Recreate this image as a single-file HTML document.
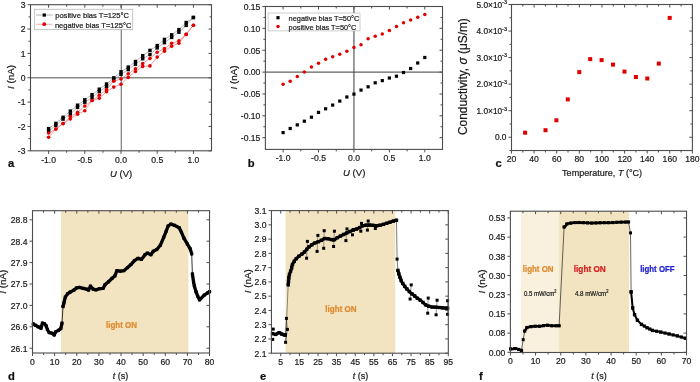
<!DOCTYPE html>
<html><head><meta charset="utf-8"><style>
html,body{margin:0;padding:0;background:#fff;}
svg{display:block;will-change:transform;}
text{font-family:"Liberation Sans", sans-serif;stroke-width:0.22px;}
</style></head><body>
<svg width="700" height="382" viewBox="0 0 700 382">
<rect width="700" height="382" fill="#fff"/>
<line x1="30.50" y1="77.75" x2="211.50" y2="77.75" stroke="#8a8a8a" stroke-width="1.3"/>
<line x1="121.30" y1="4.70" x2="121.30" y2="150.80" stroke="#7a7a7a" stroke-width="1.2"/>
<polyline points="48.60,128.60 55.84,123.40 63.08,117.30 70.32,111.10 77.56,105.20 84.80,99.80 92.04,94.60 99.28,89.20 106.52,84.00 113.76,77.90 121.00,71.80 128.24,67.10 135.48,61.50 142.72,55.70 149.96,50.40 157.20,45.60 164.44,39.40 171.68,34.80 178.92,29.60 186.16,22.50 193.40,17.50" fill="none" stroke="#9a9a9a" stroke-width="0.7" stroke-linejoin="round" stroke-linecap="round" />
<polyline points="48.60,131.20 55.84,125.30 63.08,119.10 70.32,114.20 77.56,107.40 84.80,102.20 92.04,97.50 99.28,91.60 106.52,86.60 113.76,79.80 121.00,74.40 128.24,69.60 135.48,64.20 142.72,58.70 149.96,54.50 157.20,47.90 164.44,42.70 171.68,37.40 178.92,32.20 186.16,25.40 193.40,17.50" fill="none" stroke="#9a9a9a" stroke-width="0.7" stroke-linejoin="round" stroke-linecap="round" />
<polyline points="48.60,133.00 55.84,129.00 63.08,123.60 70.32,116.50 77.56,112.30 84.80,106.00 92.04,100.50 99.28,95.30 106.52,89.50 113.76,81.20 121.00,79.00 128.24,73.80 135.48,68.80 142.72,63.50 149.96,58.40 157.20,52.20 164.44,48.60 171.68,43.30 178.92,40.70 186.16,34.40 193.40,25.20" fill="none" stroke="#f07070" stroke-width="0.7" stroke-linejoin="round" stroke-linecap="round" />
<polyline points="48.60,137.30 55.84,129.00 63.08,123.60 70.32,118.90 77.56,114.20 84.80,110.70 92.04,100.50 99.28,98.20 106.52,91.80 113.76,87.10 121.00,84.30 128.24,77.40 135.48,71.50 142.72,66.40 149.96,65.90 157.20,57.10 164.44,51.20 171.68,46.20 178.92,43.30 186.16,34.40 193.40,25.20" fill="none" stroke="#f07070" stroke-width="0.7" stroke-linejoin="round" stroke-linecap="round" />
<rect x="46.90" y="126.90" width="3.4" height="3.4" fill="#000"/>
<rect x="54.14" y="121.70" width="3.4" height="3.4" fill="#000"/>
<rect x="61.38" y="115.60" width="3.4" height="3.4" fill="#000"/>
<rect x="68.62" y="109.40" width="3.4" height="3.4" fill="#000"/>
<rect x="75.86" y="103.50" width="3.4" height="3.4" fill="#000"/>
<rect x="83.10" y="98.10" width="3.4" height="3.4" fill="#000"/>
<rect x="90.34" y="92.90" width="3.4" height="3.4" fill="#000"/>
<rect x="97.58" y="87.50" width="3.4" height="3.4" fill="#000"/>
<rect x="104.82" y="82.30" width="3.4" height="3.4" fill="#000"/>
<rect x="112.06" y="76.20" width="3.4" height="3.4" fill="#000"/>
<rect x="119.30" y="70.10" width="3.4" height="3.4" fill="#000"/>
<rect x="126.54" y="65.40" width="3.4" height="3.4" fill="#000"/>
<rect x="133.78" y="59.80" width="3.4" height="3.4" fill="#000"/>
<rect x="141.02" y="54.00" width="3.4" height="3.4" fill="#000"/>
<rect x="148.26" y="48.70" width="3.4" height="3.4" fill="#000"/>
<rect x="155.50" y="43.90" width="3.4" height="3.4" fill="#000"/>
<rect x="162.74" y="37.70" width="3.4" height="3.4" fill="#000"/>
<rect x="169.98" y="33.10" width="3.4" height="3.4" fill="#000"/>
<rect x="177.22" y="27.90" width="3.4" height="3.4" fill="#000"/>
<rect x="184.46" y="20.80" width="3.4" height="3.4" fill="#000"/>
<rect x="191.70" y="15.80" width="3.4" height="3.4" fill="#000"/>
<rect x="46.90" y="129.50" width="3.4" height="3.4" fill="#000"/>
<rect x="54.14" y="123.60" width="3.4" height="3.4" fill="#000"/>
<rect x="61.38" y="117.40" width="3.4" height="3.4" fill="#000"/>
<rect x="68.62" y="112.50" width="3.4" height="3.4" fill="#000"/>
<rect x="75.86" y="105.70" width="3.4" height="3.4" fill="#000"/>
<rect x="83.10" y="100.50" width="3.4" height="3.4" fill="#000"/>
<rect x="90.34" y="95.80" width="3.4" height="3.4" fill="#000"/>
<rect x="97.58" y="89.90" width="3.4" height="3.4" fill="#000"/>
<rect x="104.82" y="84.90" width="3.4" height="3.4" fill="#000"/>
<rect x="112.06" y="78.10" width="3.4" height="3.4" fill="#000"/>
<rect x="119.30" y="72.70" width="3.4" height="3.4" fill="#000"/>
<rect x="126.54" y="67.90" width="3.4" height="3.4" fill="#000"/>
<rect x="133.78" y="62.50" width="3.4" height="3.4" fill="#000"/>
<rect x="141.02" y="57.00" width="3.4" height="3.4" fill="#000"/>
<rect x="148.26" y="52.80" width="3.4" height="3.4" fill="#000"/>
<rect x="155.50" y="46.20" width="3.4" height="3.4" fill="#000"/>
<rect x="162.74" y="41.00" width="3.4" height="3.4" fill="#000"/>
<rect x="169.98" y="35.70" width="3.4" height="3.4" fill="#000"/>
<rect x="177.22" y="30.50" width="3.4" height="3.4" fill="#000"/>
<rect x="184.46" y="23.70" width="3.4" height="3.4" fill="#000"/>
<rect x="191.70" y="15.80" width="3.4" height="3.4" fill="#000"/>
<circle cx="48.60" cy="133.00" r="1.8" fill="#e00000"/>
<circle cx="55.84" cy="129.00" r="1.8" fill="#e00000"/>
<circle cx="63.08" cy="123.60" r="1.8" fill="#e00000"/>
<circle cx="70.32" cy="116.50" r="1.8" fill="#e00000"/>
<circle cx="77.56" cy="112.30" r="1.8" fill="#e00000"/>
<circle cx="84.80" cy="106.00" r="1.8" fill="#e00000"/>
<circle cx="92.04" cy="100.50" r="1.8" fill="#e00000"/>
<circle cx="99.28" cy="95.30" r="1.8" fill="#e00000"/>
<circle cx="106.52" cy="89.50" r="1.8" fill="#e00000"/>
<circle cx="113.76" cy="81.20" r="1.8" fill="#e00000"/>
<circle cx="121.00" cy="79.00" r="1.8" fill="#e00000"/>
<circle cx="128.24" cy="73.80" r="1.8" fill="#e00000"/>
<circle cx="135.48" cy="68.80" r="1.8" fill="#e00000"/>
<circle cx="142.72" cy="63.50" r="1.8" fill="#e00000"/>
<circle cx="149.96" cy="58.40" r="1.8" fill="#e00000"/>
<circle cx="157.20" cy="52.20" r="1.8" fill="#e00000"/>
<circle cx="164.44" cy="48.60" r="1.8" fill="#e00000"/>
<circle cx="171.68" cy="43.30" r="1.8" fill="#e00000"/>
<circle cx="178.92" cy="40.70" r="1.8" fill="#e00000"/>
<circle cx="186.16" cy="34.40" r="1.8" fill="#e00000"/>
<circle cx="193.40" cy="25.20" r="1.8" fill="#e00000"/>
<circle cx="48.60" cy="137.30" r="1.8" fill="#e00000"/>
<circle cx="55.84" cy="129.00" r="1.8" fill="#e00000"/>
<circle cx="63.08" cy="123.60" r="1.8" fill="#e00000"/>
<circle cx="70.32" cy="118.90" r="1.8" fill="#e00000"/>
<circle cx="77.56" cy="114.20" r="1.8" fill="#e00000"/>
<circle cx="84.80" cy="110.70" r="1.8" fill="#e00000"/>
<circle cx="92.04" cy="100.50" r="1.8" fill="#e00000"/>
<circle cx="99.28" cy="98.20" r="1.8" fill="#e00000"/>
<circle cx="106.52" cy="91.80" r="1.8" fill="#e00000"/>
<circle cx="113.76" cy="87.10" r="1.8" fill="#e00000"/>
<circle cx="121.00" cy="84.30" r="1.8" fill="#e00000"/>
<circle cx="128.24" cy="77.40" r="1.8" fill="#e00000"/>
<circle cx="135.48" cy="71.50" r="1.8" fill="#e00000"/>
<circle cx="142.72" cy="66.40" r="1.8" fill="#e00000"/>
<circle cx="149.96" cy="65.90" r="1.8" fill="#e00000"/>
<circle cx="157.20" cy="57.10" r="1.8" fill="#e00000"/>
<circle cx="164.44" cy="51.20" r="1.8" fill="#e00000"/>
<circle cx="171.68" cy="46.20" r="1.8" fill="#e00000"/>
<circle cx="178.92" cy="43.30" r="1.8" fill="#e00000"/>
<circle cx="186.16" cy="34.40" r="1.8" fill="#e00000"/>
<circle cx="193.40" cy="25.20" r="1.8" fill="#e00000"/>
<rect x="30.50" y="4.70" width="181.00" height="146.10" fill="none" stroke="#4d4d4d" stroke-width="1.1"/>
<line x1="48.60" y1="150.80" x2="48.60" y2="153.80" stroke="#4d4d4d" stroke-width="1"/>
<line x1="48.60" y1="4.70" x2="48.60" y2="7.70" stroke="#4d4d4d" stroke-width="1"/>
<line x1="84.80" y1="150.80" x2="84.80" y2="153.80" stroke="#4d4d4d" stroke-width="1"/>
<line x1="84.80" y1="4.70" x2="84.80" y2="7.70" stroke="#4d4d4d" stroke-width="1"/>
<line x1="121.00" y1="150.80" x2="121.00" y2="153.80" stroke="#4d4d4d" stroke-width="1"/>
<line x1="121.00" y1="4.70" x2="121.00" y2="7.70" stroke="#4d4d4d" stroke-width="1"/>
<line x1="157.20" y1="150.80" x2="157.20" y2="153.80" stroke="#4d4d4d" stroke-width="1"/>
<line x1="157.20" y1="4.70" x2="157.20" y2="7.70" stroke="#4d4d4d" stroke-width="1"/>
<line x1="193.40" y1="150.80" x2="193.40" y2="153.80" stroke="#4d4d4d" stroke-width="1"/>
<line x1="193.40" y1="4.70" x2="193.40" y2="7.70" stroke="#4d4d4d" stroke-width="1"/>
<line x1="66.70" y1="150.80" x2="66.70" y2="152.80" stroke="#4d4d4d" stroke-width="1"/>
<line x1="66.70" y1="4.70" x2="66.70" y2="6.70" stroke="#4d4d4d" stroke-width="1"/>
<line x1="102.90" y1="150.80" x2="102.90" y2="152.80" stroke="#4d4d4d" stroke-width="1"/>
<line x1="102.90" y1="4.70" x2="102.90" y2="6.70" stroke="#4d4d4d" stroke-width="1"/>
<line x1="139.10" y1="150.80" x2="139.10" y2="152.80" stroke="#4d4d4d" stroke-width="1"/>
<line x1="139.10" y1="4.70" x2="139.10" y2="6.70" stroke="#4d4d4d" stroke-width="1"/>
<line x1="175.30" y1="150.80" x2="175.30" y2="152.80" stroke="#4d4d4d" stroke-width="1"/>
<line x1="175.30" y1="4.70" x2="175.30" y2="6.70" stroke="#4d4d4d" stroke-width="1"/>
<text x="48.60" y="162.50" font-size="9.3" text-anchor="middle" font-weight="normal" fill="#1a1a1a" stroke="#1a1a1a" font-style="normal"  textLength="14.82" lengthAdjust="spacingAndGlyphs">-1.0</text>
<text x="84.80" y="162.50" font-size="9.3" text-anchor="middle" font-weight="normal" fill="#1a1a1a" stroke="#1a1a1a" font-style="normal"  textLength="14.82" lengthAdjust="spacingAndGlyphs">-0.5</text>
<text x="121.00" y="162.50" font-size="9.3" text-anchor="middle" font-weight="normal" fill="#1a1a1a" stroke="#1a1a1a" font-style="normal"  textLength="11.96" lengthAdjust="spacingAndGlyphs">0.0</text>
<text x="157.20" y="162.50" font-size="9.3" text-anchor="middle" font-weight="normal" fill="#1a1a1a" stroke="#1a1a1a" font-style="normal"  textLength="11.96" lengthAdjust="spacingAndGlyphs">0.5</text>
<text x="193.40" y="162.50" font-size="9.3" text-anchor="middle" font-weight="normal" fill="#1a1a1a" stroke="#1a1a1a" font-style="normal"  textLength="11.96" lengthAdjust="spacingAndGlyphs">1.0</text>
<line x1="27.50" y1="4.70" x2="30.50" y2="4.70" stroke="#4d4d4d" stroke-width="1"/>
<line x1="208.50" y1="4.70" x2="211.50" y2="4.70" stroke="#4d4d4d" stroke-width="1"/>
<line x1="27.50" y1="29.05" x2="30.50" y2="29.05" stroke="#4d4d4d" stroke-width="1"/>
<line x1="208.50" y1="29.05" x2="211.50" y2="29.05" stroke="#4d4d4d" stroke-width="1"/>
<line x1="27.50" y1="53.40" x2="30.50" y2="53.40" stroke="#4d4d4d" stroke-width="1"/>
<line x1="208.50" y1="53.40" x2="211.50" y2="53.40" stroke="#4d4d4d" stroke-width="1"/>
<line x1="27.50" y1="77.75" x2="30.50" y2="77.75" stroke="#4d4d4d" stroke-width="1"/>
<line x1="208.50" y1="77.75" x2="211.50" y2="77.75" stroke="#4d4d4d" stroke-width="1"/>
<line x1="27.50" y1="102.10" x2="30.50" y2="102.10" stroke="#4d4d4d" stroke-width="1"/>
<line x1="208.50" y1="102.10" x2="211.50" y2="102.10" stroke="#4d4d4d" stroke-width="1"/>
<line x1="27.50" y1="126.45" x2="30.50" y2="126.45" stroke="#4d4d4d" stroke-width="1"/>
<line x1="208.50" y1="126.45" x2="211.50" y2="126.45" stroke="#4d4d4d" stroke-width="1"/>
<line x1="27.50" y1="150.80" x2="30.50" y2="150.80" stroke="#4d4d4d" stroke-width="1"/>
<line x1="208.50" y1="150.80" x2="211.50" y2="150.80" stroke="#4d4d4d" stroke-width="1"/>
<line x1="28.50" y1="16.88" x2="30.50" y2="16.88" stroke="#4d4d4d" stroke-width="1"/>
<line x1="209.50" y1="16.88" x2="211.50" y2="16.88" stroke="#4d4d4d" stroke-width="1"/>
<line x1="28.50" y1="41.22" x2="30.50" y2="41.22" stroke="#4d4d4d" stroke-width="1"/>
<line x1="209.50" y1="41.22" x2="211.50" y2="41.22" stroke="#4d4d4d" stroke-width="1"/>
<line x1="28.50" y1="65.58" x2="30.50" y2="65.58" stroke="#4d4d4d" stroke-width="1"/>
<line x1="209.50" y1="65.58" x2="211.50" y2="65.58" stroke="#4d4d4d" stroke-width="1"/>
<line x1="28.50" y1="89.92" x2="30.50" y2="89.92" stroke="#4d4d4d" stroke-width="1"/>
<line x1="209.50" y1="89.92" x2="211.50" y2="89.92" stroke="#4d4d4d" stroke-width="1"/>
<line x1="28.50" y1="114.28" x2="30.50" y2="114.28" stroke="#4d4d4d" stroke-width="1"/>
<line x1="209.50" y1="114.28" x2="211.50" y2="114.28" stroke="#4d4d4d" stroke-width="1"/>
<line x1="28.50" y1="138.62" x2="30.50" y2="138.62" stroke="#4d4d4d" stroke-width="1"/>
<line x1="209.50" y1="138.62" x2="211.50" y2="138.62" stroke="#4d4d4d" stroke-width="1"/>
<text x="25.50" y="8.00" font-size="9.3" text-anchor="end" font-weight="normal" fill="#1a1a1a" stroke="#1a1a1a" font-style="normal"  textLength="4.78" lengthAdjust="spacingAndGlyphs">3</text>
<text x="25.50" y="32.35" font-size="9.3" text-anchor="end" font-weight="normal" fill="#1a1a1a" stroke="#1a1a1a" font-style="normal"  textLength="4.78" lengthAdjust="spacingAndGlyphs">2</text>
<text x="25.50" y="56.70" font-size="9.3" text-anchor="end" font-weight="normal" fill="#1a1a1a" stroke="#1a1a1a" font-style="normal"  textLength="4.78" lengthAdjust="spacingAndGlyphs">1</text>
<text x="25.50" y="81.05" font-size="9.3" text-anchor="end" font-weight="normal" fill="#1a1a1a" stroke="#1a1a1a" font-style="normal"  textLength="4.78" lengthAdjust="spacingAndGlyphs">0</text>
<text x="25.50" y="105.40" font-size="9.3" text-anchor="end" font-weight="normal" fill="#1a1a1a" stroke="#1a1a1a" font-style="normal"  textLength="7.65" lengthAdjust="spacingAndGlyphs">-1</text>
<text x="25.50" y="129.75" font-size="9.3" text-anchor="end" font-weight="normal" fill="#1a1a1a" stroke="#1a1a1a" font-style="normal"  textLength="7.65" lengthAdjust="spacingAndGlyphs">-2</text>
<text x="25.50" y="154.10" font-size="9.3" text-anchor="end" font-weight="normal" fill="#1a1a1a" stroke="#1a1a1a" font-style="normal"  textLength="7.65" lengthAdjust="spacingAndGlyphs">-3</text>
<rect x="34.30" y="9.20" width="98.50" height="20.40" fill="#ffffff" stroke="#a0a0a0" stroke-width="0.6"/>
<line x1="36.00" y1="15.00" x2="52.50" y2="15.00" stroke="#cfcfcf" stroke-width="1.6"/>
<rect x="42.65" y="13.45" width="3.2" height="3.2" fill="#000"/>
<line x1="36.00" y1="24.30" x2="52.50" y2="24.30" stroke="#f09a9a" stroke-width="0.8"/>
<circle cx="44.25" cy="24.20" r="1.9" fill="#e00000"/>
<text x="55.20" y="18.10" font-size="8.0" text-anchor="start" font-weight="normal" fill="#1a1a1a" stroke="#1a1a1a" font-style="normal"  textLength="73.8" lengthAdjust="spacingAndGlyphs">positive bias T=125°C</text>
<text x="54.90" y="27.60" font-size="8.0" text-anchor="start" font-weight="normal" fill="#1a1a1a" stroke="#1a1a1a" font-style="normal"  textLength="76.5" lengthAdjust="spacingAndGlyphs">negative bias T=125°C</text>
<text x="121.20" y="176.90" font-size="9.5" text-anchor="middle" font-weight="normal" fill="#1a1a1a" stroke="#1a1a1a" font-style="normal" ><tspan font-style="italic">U</tspan> (V)</text>
<text x="0" y="0" font-size="9.8" text-anchor="middle" fill="#1a1a1a" stroke="#1a1a1a" transform="translate(14.10,77.00) rotate(-90)"><tspan font-style="italic">I</tspan> (nA)</text>
<text x="8.00" y="167.30" font-size="11.2" text-anchor="start" font-weight="bold" fill="#111" stroke="#111" font-style="normal" >a</text>
<line x1="265.39" y1="72.10" x2="442.51" y2="72.10" stroke="#3a3a3a" stroke-width="1"/>
<line x1="353.95" y1="6.50" x2="353.95" y2="149.40" stroke="#3a3a3a" stroke-width="1"/>
<rect x="281.50" y="131.00" width="3.2" height="3.2" fill="#000"/>
<rect x="288.58" y="126.90" width="3.2" height="3.2" fill="#000"/>
<rect x="295.67" y="123.30" width="3.2" height="3.2" fill="#000"/>
<rect x="302.75" y="119.60" width="3.2" height="3.2" fill="#000"/>
<rect x="309.84" y="115.60" width="3.2" height="3.2" fill="#000"/>
<rect x="316.92" y="110.80" width="3.2" height="3.2" fill="#000"/>
<rect x="324.01" y="107.20" width="3.2" height="3.2" fill="#000"/>
<rect x="331.09" y="103.50" width="3.2" height="3.2" fill="#000"/>
<rect x="338.18" y="99.50" width="3.2" height="3.2" fill="#000"/>
<rect x="345.26" y="95.40" width="3.2" height="3.2" fill="#000"/>
<rect x="352.35" y="92.50" width="3.2" height="3.2" fill="#000"/>
<rect x="359.43" y="88.50" width="3.2" height="3.2" fill="#000"/>
<rect x="366.52" y="85.20" width="3.2" height="3.2" fill="#000"/>
<rect x="373.60" y="81.20" width="3.2" height="3.2" fill="#000"/>
<rect x="380.69" y="79.00" width="3.2" height="3.2" fill="#000"/>
<rect x="387.77" y="76.40" width="3.2" height="3.2" fill="#000"/>
<rect x="394.86" y="74.60" width="3.2" height="3.2" fill="#000"/>
<rect x="401.94" y="70.90" width="3.2" height="3.2" fill="#000"/>
<rect x="409.03" y="66.90" width="3.2" height="3.2" fill="#000"/>
<rect x="416.11" y="61.40" width="3.2" height="3.2" fill="#000"/>
<rect x="423.20" y="55.90" width="3.2" height="3.2" fill="#000"/>
<circle cx="283.10" cy="84.20" r="1.75" fill="#e00000"/>
<circle cx="290.19" cy="81.30" r="1.75" fill="#e00000"/>
<circle cx="297.27" cy="76.50" r="1.75" fill="#e00000"/>
<circle cx="304.36" cy="72.10" r="1.75" fill="#e00000"/>
<circle cx="311.44" cy="67.00" r="1.75" fill="#e00000"/>
<circle cx="318.52" cy="63.30" r="1.75" fill="#e00000"/>
<circle cx="325.61" cy="59.30" r="1.75" fill="#e00000"/>
<circle cx="332.69" cy="56.80" r="1.75" fill="#e00000"/>
<circle cx="339.78" cy="54.20" r="1.75" fill="#e00000"/>
<circle cx="346.87" cy="51.30" r="1.75" fill="#e00000"/>
<circle cx="353.95" cy="47.60" r="1.75" fill="#e00000"/>
<circle cx="361.03" cy="44.70" r="1.75" fill="#e00000"/>
<circle cx="368.12" cy="38.80" r="1.75" fill="#e00000"/>
<circle cx="375.20" cy="36.30" r="1.75" fill="#e00000"/>
<circle cx="382.29" cy="34.10" r="1.75" fill="#e00000"/>
<circle cx="389.38" cy="30.40" r="1.75" fill="#e00000"/>
<circle cx="396.46" cy="26.40" r="1.75" fill="#e00000"/>
<circle cx="403.54" cy="22.70" r="1.75" fill="#e00000"/>
<circle cx="410.63" cy="20.10" r="1.75" fill="#e00000"/>
<circle cx="417.71" cy="17.20" r="1.75" fill="#e00000"/>
<circle cx="424.80" cy="14.60" r="1.75" fill="#e00000"/>
<rect x="265.39" y="6.50" width="177.12" height="142.90" fill="none" stroke="#4d4d4d" stroke-width="1.1"/>
<line x1="283.10" y1="149.40" x2="283.10" y2="152.40" stroke="#4d4d4d" stroke-width="1"/>
<line x1="283.10" y1="6.50" x2="283.10" y2="9.50" stroke="#4d4d4d" stroke-width="1"/>
<line x1="318.52" y1="149.40" x2="318.52" y2="152.40" stroke="#4d4d4d" stroke-width="1"/>
<line x1="318.52" y1="6.50" x2="318.52" y2="9.50" stroke="#4d4d4d" stroke-width="1"/>
<line x1="353.95" y1="149.40" x2="353.95" y2="152.40" stroke="#4d4d4d" stroke-width="1"/>
<line x1="353.95" y1="6.50" x2="353.95" y2="9.50" stroke="#4d4d4d" stroke-width="1"/>
<line x1="389.38" y1="149.40" x2="389.38" y2="152.40" stroke="#4d4d4d" stroke-width="1"/>
<line x1="389.38" y1="6.50" x2="389.38" y2="9.50" stroke="#4d4d4d" stroke-width="1"/>
<line x1="424.80" y1="149.40" x2="424.80" y2="152.40" stroke="#4d4d4d" stroke-width="1"/>
<line x1="424.80" y1="6.50" x2="424.80" y2="9.50" stroke="#4d4d4d" stroke-width="1"/>
<line x1="300.81" y1="149.40" x2="300.81" y2="151.40" stroke="#4d4d4d" stroke-width="1"/>
<line x1="300.81" y1="6.50" x2="300.81" y2="8.50" stroke="#4d4d4d" stroke-width="1"/>
<line x1="336.24" y1="149.40" x2="336.24" y2="151.40" stroke="#4d4d4d" stroke-width="1"/>
<line x1="336.24" y1="6.50" x2="336.24" y2="8.50" stroke="#4d4d4d" stroke-width="1"/>
<line x1="371.66" y1="149.40" x2="371.66" y2="151.40" stroke="#4d4d4d" stroke-width="1"/>
<line x1="371.66" y1="6.50" x2="371.66" y2="8.50" stroke="#4d4d4d" stroke-width="1"/>
<line x1="407.09" y1="149.40" x2="407.09" y2="151.40" stroke="#4d4d4d" stroke-width="1"/>
<line x1="407.09" y1="6.50" x2="407.09" y2="8.50" stroke="#4d4d4d" stroke-width="1"/>
<text x="283.10" y="161.10" font-size="9.3" text-anchor="middle" font-weight="normal" fill="#1a1a1a" stroke="#1a1a1a" font-style="normal"  textLength="14.82" lengthAdjust="spacingAndGlyphs">-1.0</text>
<text x="318.52" y="161.10" font-size="9.3" text-anchor="middle" font-weight="normal" fill="#1a1a1a" stroke="#1a1a1a" font-style="normal"  textLength="14.82" lengthAdjust="spacingAndGlyphs">-0.5</text>
<text x="353.95" y="161.10" font-size="9.3" text-anchor="middle" font-weight="normal" fill="#1a1a1a" stroke="#1a1a1a" font-style="normal"  textLength="11.96" lengthAdjust="spacingAndGlyphs">0.0</text>
<text x="389.38" y="161.10" font-size="9.3" text-anchor="middle" font-weight="normal" fill="#1a1a1a" stroke="#1a1a1a" font-style="normal"  textLength="11.96" lengthAdjust="spacingAndGlyphs">0.5</text>
<text x="424.80" y="161.10" font-size="9.3" text-anchor="middle" font-weight="normal" fill="#1a1a1a" stroke="#1a1a1a" font-style="normal"  textLength="11.96" lengthAdjust="spacingAndGlyphs">1.0</text>
<line x1="262.39" y1="6.50" x2="265.39" y2="6.50" stroke="#4d4d4d" stroke-width="1"/>
<line x1="439.51" y1="6.50" x2="442.51" y2="6.50" stroke="#4d4d4d" stroke-width="1"/>
<line x1="262.39" y1="28.37" x2="265.39" y2="28.37" stroke="#4d4d4d" stroke-width="1"/>
<line x1="439.51" y1="28.37" x2="442.51" y2="28.37" stroke="#4d4d4d" stroke-width="1"/>
<line x1="262.39" y1="50.23" x2="265.39" y2="50.23" stroke="#4d4d4d" stroke-width="1"/>
<line x1="439.51" y1="50.23" x2="442.51" y2="50.23" stroke="#4d4d4d" stroke-width="1"/>
<line x1="262.39" y1="72.10" x2="265.39" y2="72.10" stroke="#4d4d4d" stroke-width="1"/>
<line x1="439.51" y1="72.10" x2="442.51" y2="72.10" stroke="#4d4d4d" stroke-width="1"/>
<line x1="262.39" y1="93.97" x2="265.39" y2="93.97" stroke="#4d4d4d" stroke-width="1"/>
<line x1="439.51" y1="93.97" x2="442.51" y2="93.97" stroke="#4d4d4d" stroke-width="1"/>
<line x1="262.39" y1="115.83" x2="265.39" y2="115.83" stroke="#4d4d4d" stroke-width="1"/>
<line x1="439.51" y1="115.83" x2="442.51" y2="115.83" stroke="#4d4d4d" stroke-width="1"/>
<line x1="262.39" y1="137.69" x2="265.39" y2="137.69" stroke="#4d4d4d" stroke-width="1"/>
<line x1="439.51" y1="137.69" x2="442.51" y2="137.69" stroke="#4d4d4d" stroke-width="1"/>
<line x1="263.39" y1="17.44" x2="265.39" y2="17.44" stroke="#4d4d4d" stroke-width="1"/>
<line x1="440.51" y1="17.44" x2="442.51" y2="17.44" stroke="#4d4d4d" stroke-width="1"/>
<line x1="263.39" y1="39.30" x2="265.39" y2="39.30" stroke="#4d4d4d" stroke-width="1"/>
<line x1="440.51" y1="39.30" x2="442.51" y2="39.30" stroke="#4d4d4d" stroke-width="1"/>
<line x1="263.39" y1="61.17" x2="265.39" y2="61.17" stroke="#4d4d4d" stroke-width="1"/>
<line x1="440.51" y1="61.17" x2="442.51" y2="61.17" stroke="#4d4d4d" stroke-width="1"/>
<line x1="263.39" y1="83.03" x2="265.39" y2="83.03" stroke="#4d4d4d" stroke-width="1"/>
<line x1="440.51" y1="83.03" x2="442.51" y2="83.03" stroke="#4d4d4d" stroke-width="1"/>
<line x1="263.39" y1="104.90" x2="265.39" y2="104.90" stroke="#4d4d4d" stroke-width="1"/>
<line x1="440.51" y1="104.90" x2="442.51" y2="104.90" stroke="#4d4d4d" stroke-width="1"/>
<line x1="263.39" y1="126.76" x2="265.39" y2="126.76" stroke="#4d4d4d" stroke-width="1"/>
<line x1="440.51" y1="126.76" x2="442.51" y2="126.76" stroke="#4d4d4d" stroke-width="1"/>
<text x="260.39" y="9.80" font-size="9.3" text-anchor="end" font-weight="normal" fill="#1a1a1a" stroke="#1a1a1a" font-style="normal"  textLength="16.74" lengthAdjust="spacingAndGlyphs">0.15</text>
<text x="260.39" y="31.67" font-size="9.3" text-anchor="end" font-weight="normal" fill="#1a1a1a" stroke="#1a1a1a" font-style="normal"  textLength="16.74" lengthAdjust="spacingAndGlyphs">0.10</text>
<text x="260.39" y="53.53" font-size="9.3" text-anchor="end" font-weight="normal" fill="#1a1a1a" stroke="#1a1a1a" font-style="normal"  textLength="16.74" lengthAdjust="spacingAndGlyphs">0.05</text>
<text x="260.39" y="75.40" font-size="9.3" text-anchor="end" font-weight="normal" fill="#1a1a1a" stroke="#1a1a1a" font-style="normal"  textLength="16.74" lengthAdjust="spacingAndGlyphs">0.00</text>
<text x="260.39" y="97.27" font-size="9.3" text-anchor="end" font-weight="normal" fill="#1a1a1a" stroke="#1a1a1a" font-style="normal"  textLength="19.60" lengthAdjust="spacingAndGlyphs">-0.05</text>
<text x="260.39" y="119.13" font-size="9.3" text-anchor="end" font-weight="normal" fill="#1a1a1a" stroke="#1a1a1a" font-style="normal"  textLength="19.60" lengthAdjust="spacingAndGlyphs">-0.10</text>
<text x="260.39" y="141.00" font-size="9.3" text-anchor="end" font-weight="normal" fill="#1a1a1a" stroke="#1a1a1a" font-style="normal"  textLength="19.60" lengthAdjust="spacingAndGlyphs">-0.15</text>
<rect x="268.10" y="13.00" width="91.90" height="17.90" fill="#ffffff" stroke="#b0b0b0" stroke-width="0.6"/>
<rect x="276.40" y="16.10" width="3.2" height="3.2" fill="#000"/>
<circle cx="278.00" cy="26.60" r="1.75" fill="#e00000"/>
<text x="288.60" y="20.60" font-size="8.0" text-anchor="start" font-weight="normal" fill="#1a1a1a" stroke="#1a1a1a" font-style="normal"  textLength="70.7" lengthAdjust="spacingAndGlyphs">negative bias T=50°C</text>
<text x="288.60" y="29.50" font-size="8.0" text-anchor="start" font-weight="normal" fill="#1a1a1a" stroke="#1a1a1a" font-style="normal"  textLength="67.8" lengthAdjust="spacingAndGlyphs">positive bias T=50°C</text>
<text x="354.20" y="175.90" font-size="9.6" text-anchor="middle" font-weight="normal" fill="#1a1a1a" stroke="#1a1a1a" font-style="normal" ><tspan font-style="italic">U</tspan> (V)</text>
<text x="0" y="0" font-size="9.8" text-anchor="middle" fill="#1a1a1a" stroke="#1a1a1a" transform="translate(237.20,77.50) rotate(-90)"><tspan font-style="italic">I</tspan> (nA)</text>
<text x="247.80" y="166.70" font-size="11.2" text-anchor="start" font-weight="bold" fill="#111" stroke="#111" font-style="normal" >b</text>
<rect x="523.10" y="130.70" width="4.0" height="4.0" fill="#e00000"/>
<rect x="543.50" y="128.20" width="4.0" height="4.0" fill="#e00000"/>
<rect x="554.40" y="118.30" width="4.0" height="4.0" fill="#e00000"/>
<rect x="565.80" y="97.40" width="4.0" height="4.0" fill="#e00000"/>
<rect x="577.30" y="70.10" width="4.0" height="4.0" fill="#e00000"/>
<rect x="588.20" y="57.10" width="4.0" height="4.0" fill="#e00000"/>
<rect x="599.60" y="58.10" width="4.0" height="4.0" fill="#e00000"/>
<rect x="611.00" y="62.60" width="4.0" height="4.0" fill="#e00000"/>
<rect x="622.50" y="69.60" width="4.0" height="4.0" fill="#e00000"/>
<rect x="633.90" y="75.00" width="4.0" height="4.0" fill="#e00000"/>
<rect x="645.30" y="76.50" width="4.0" height="4.0" fill="#e00000"/>
<rect x="656.80" y="61.60" width="4.0" height="4.0" fill="#e00000"/>
<rect x="667.70" y="15.90" width="4.0" height="4.0" fill="#e00000"/>
<rect x="511.50" y="4.50" width="180.90" height="146.03" fill="none" stroke="#4d4d4d" stroke-width="1.1"/>
<line x1="511.50" y1="150.53" x2="511.50" y2="153.53" stroke="#4d4d4d" stroke-width="1"/>
<line x1="511.50" y1="4.50" x2="511.50" y2="7.50" stroke="#4d4d4d" stroke-width="1"/>
<line x1="534.11" y1="150.53" x2="534.11" y2="153.53" stroke="#4d4d4d" stroke-width="1"/>
<line x1="534.11" y1="4.50" x2="534.11" y2="7.50" stroke="#4d4d4d" stroke-width="1"/>
<line x1="556.72" y1="150.53" x2="556.72" y2="153.53" stroke="#4d4d4d" stroke-width="1"/>
<line x1="556.72" y1="4.50" x2="556.72" y2="7.50" stroke="#4d4d4d" stroke-width="1"/>
<line x1="579.34" y1="150.53" x2="579.34" y2="153.53" stroke="#4d4d4d" stroke-width="1"/>
<line x1="579.34" y1="4.50" x2="579.34" y2="7.50" stroke="#4d4d4d" stroke-width="1"/>
<line x1="601.95" y1="150.53" x2="601.95" y2="153.53" stroke="#4d4d4d" stroke-width="1"/>
<line x1="601.95" y1="4.50" x2="601.95" y2="7.50" stroke="#4d4d4d" stroke-width="1"/>
<line x1="624.56" y1="150.53" x2="624.56" y2="153.53" stroke="#4d4d4d" stroke-width="1"/>
<line x1="624.56" y1="4.50" x2="624.56" y2="7.50" stroke="#4d4d4d" stroke-width="1"/>
<line x1="647.17" y1="150.53" x2="647.17" y2="153.53" stroke="#4d4d4d" stroke-width="1"/>
<line x1="647.17" y1="4.50" x2="647.17" y2="7.50" stroke="#4d4d4d" stroke-width="1"/>
<line x1="669.78" y1="150.53" x2="669.78" y2="153.53" stroke="#4d4d4d" stroke-width="1"/>
<line x1="669.78" y1="4.50" x2="669.78" y2="7.50" stroke="#4d4d4d" stroke-width="1"/>
<line x1="692.40" y1="150.53" x2="692.40" y2="153.53" stroke="#4d4d4d" stroke-width="1"/>
<line x1="692.40" y1="4.50" x2="692.40" y2="7.50" stroke="#4d4d4d" stroke-width="1"/>
<line x1="522.81" y1="150.53" x2="522.81" y2="152.53" stroke="#4d4d4d" stroke-width="1"/>
<line x1="522.81" y1="4.50" x2="522.81" y2="6.50" stroke="#4d4d4d" stroke-width="1"/>
<line x1="545.42" y1="150.53" x2="545.42" y2="152.53" stroke="#4d4d4d" stroke-width="1"/>
<line x1="545.42" y1="4.50" x2="545.42" y2="6.50" stroke="#4d4d4d" stroke-width="1"/>
<line x1="568.03" y1="150.53" x2="568.03" y2="152.53" stroke="#4d4d4d" stroke-width="1"/>
<line x1="568.03" y1="4.50" x2="568.03" y2="6.50" stroke="#4d4d4d" stroke-width="1"/>
<line x1="590.64" y1="150.53" x2="590.64" y2="152.53" stroke="#4d4d4d" stroke-width="1"/>
<line x1="590.64" y1="4.50" x2="590.64" y2="6.50" stroke="#4d4d4d" stroke-width="1"/>
<line x1="613.25" y1="150.53" x2="613.25" y2="152.53" stroke="#4d4d4d" stroke-width="1"/>
<line x1="613.25" y1="4.50" x2="613.25" y2="6.50" stroke="#4d4d4d" stroke-width="1"/>
<line x1="635.87" y1="150.53" x2="635.87" y2="152.53" stroke="#4d4d4d" stroke-width="1"/>
<line x1="635.87" y1="4.50" x2="635.87" y2="6.50" stroke="#4d4d4d" stroke-width="1"/>
<line x1="658.48" y1="150.53" x2="658.48" y2="152.53" stroke="#4d4d4d" stroke-width="1"/>
<line x1="658.48" y1="4.50" x2="658.48" y2="6.50" stroke="#4d4d4d" stroke-width="1"/>
<line x1="681.09" y1="150.53" x2="681.09" y2="152.53" stroke="#4d4d4d" stroke-width="1"/>
<line x1="681.09" y1="4.50" x2="681.09" y2="6.50" stroke="#4d4d4d" stroke-width="1"/>
<text x="511.50" y="162.22" font-size="9.3" text-anchor="middle" font-weight="normal" fill="#1a1a1a" stroke="#1a1a1a" font-style="normal"  textLength="9.57" lengthAdjust="spacingAndGlyphs">20</text>
<text x="534.11" y="162.22" font-size="9.3" text-anchor="middle" font-weight="normal" fill="#1a1a1a" stroke="#1a1a1a" font-style="normal"  textLength="9.57" lengthAdjust="spacingAndGlyphs">40</text>
<text x="556.72" y="162.22" font-size="9.3" text-anchor="middle" font-weight="normal" fill="#1a1a1a" stroke="#1a1a1a" font-style="normal"  textLength="9.57" lengthAdjust="spacingAndGlyphs">60</text>
<text x="579.34" y="162.22" font-size="9.3" text-anchor="middle" font-weight="normal" fill="#1a1a1a" stroke="#1a1a1a" font-style="normal"  textLength="9.57" lengthAdjust="spacingAndGlyphs">80</text>
<text x="601.95" y="162.22" font-size="9.3" text-anchor="middle" font-weight="normal" fill="#1a1a1a" stroke="#1a1a1a" font-style="normal"  textLength="14.35" lengthAdjust="spacingAndGlyphs">100</text>
<text x="624.56" y="162.22" font-size="9.3" text-anchor="middle" font-weight="normal" fill="#1a1a1a" stroke="#1a1a1a" font-style="normal"  textLength="14.35" lengthAdjust="spacingAndGlyphs">120</text>
<text x="647.17" y="162.22" font-size="9.3" text-anchor="middle" font-weight="normal" fill="#1a1a1a" stroke="#1a1a1a" font-style="normal"  textLength="14.35" lengthAdjust="spacingAndGlyphs">140</text>
<text x="669.78" y="162.22" font-size="9.3" text-anchor="middle" font-weight="normal" fill="#1a1a1a" stroke="#1a1a1a" font-style="normal"  textLength="14.35" lengthAdjust="spacingAndGlyphs">160</text>
<text x="692.40" y="162.22" font-size="9.3" text-anchor="middle" font-weight="normal" fill="#1a1a1a" stroke="#1a1a1a" font-style="normal"  textLength="14.35" lengthAdjust="spacingAndGlyphs">180</text>
<line x1="508.50" y1="4.50" x2="511.50" y2="4.50" stroke="#4d4d4d" stroke-width="1"/>
<line x1="689.40" y1="4.50" x2="692.40" y2="4.50" stroke="#4d4d4d" stroke-width="1"/>
<line x1="508.50" y1="31.05" x2="511.50" y2="31.05" stroke="#4d4d4d" stroke-width="1"/>
<line x1="689.40" y1="31.05" x2="692.40" y2="31.05" stroke="#4d4d4d" stroke-width="1"/>
<line x1="508.50" y1="57.60" x2="511.50" y2="57.60" stroke="#4d4d4d" stroke-width="1"/>
<line x1="689.40" y1="57.60" x2="692.40" y2="57.60" stroke="#4d4d4d" stroke-width="1"/>
<line x1="508.50" y1="84.15" x2="511.50" y2="84.15" stroke="#4d4d4d" stroke-width="1"/>
<line x1="689.40" y1="84.15" x2="692.40" y2="84.15" stroke="#4d4d4d" stroke-width="1"/>
<line x1="508.50" y1="110.70" x2="511.50" y2="110.70" stroke="#4d4d4d" stroke-width="1"/>
<line x1="689.40" y1="110.70" x2="692.40" y2="110.70" stroke="#4d4d4d" stroke-width="1"/>
<line x1="508.50" y1="137.25" x2="511.50" y2="137.25" stroke="#4d4d4d" stroke-width="1"/>
<line x1="689.40" y1="137.25" x2="692.40" y2="137.25" stroke="#4d4d4d" stroke-width="1"/>
<line x1="509.50" y1="17.77" x2="511.50" y2="17.77" stroke="#4d4d4d" stroke-width="1"/>
<line x1="690.40" y1="17.77" x2="692.40" y2="17.77" stroke="#4d4d4d" stroke-width="1"/>
<line x1="509.50" y1="44.33" x2="511.50" y2="44.33" stroke="#4d4d4d" stroke-width="1"/>
<line x1="690.40" y1="44.33" x2="692.40" y2="44.33" stroke="#4d4d4d" stroke-width="1"/>
<line x1="509.50" y1="70.88" x2="511.50" y2="70.88" stroke="#4d4d4d" stroke-width="1"/>
<line x1="690.40" y1="70.88" x2="692.40" y2="70.88" stroke="#4d4d4d" stroke-width="1"/>
<line x1="509.50" y1="97.42" x2="511.50" y2="97.42" stroke="#4d4d4d" stroke-width="1"/>
<line x1="690.40" y1="97.42" x2="692.40" y2="97.42" stroke="#4d4d4d" stroke-width="1"/>
<line x1="509.50" y1="123.97" x2="511.50" y2="123.97" stroke="#4d4d4d" stroke-width="1"/>
<line x1="690.40" y1="123.97" x2="692.40" y2="123.97" stroke="#4d4d4d" stroke-width="1"/>
<line x1="509.50" y1="150.53" x2="511.50" y2="150.53" stroke="#4d4d4d" stroke-width="1"/>
<line x1="690.40" y1="150.53" x2="692.40" y2="150.53" stroke="#4d4d4d" stroke-width="1"/>
<text x="507.00" y="7.55" font-size="8.3" text-anchor="end" font-weight="normal" fill="#1a1a1a" stroke="#1a1a1a" font-style="normal" >5.0×10<tspan font-size="5.5" dy="-3.2">-3</tspan></text>
<text x="507.00" y="34.10" font-size="8.3" text-anchor="end" font-weight="normal" fill="#1a1a1a" stroke="#1a1a1a" font-style="normal" >4.0×10<tspan font-size="5.5" dy="-3.2">-3</tspan></text>
<text x="507.00" y="60.65" font-size="8.3" text-anchor="end" font-weight="normal" fill="#1a1a1a" stroke="#1a1a1a" font-style="normal" >3.0×10<tspan font-size="5.5" dy="-3.2">-3</tspan></text>
<text x="507.00" y="87.20" font-size="8.3" text-anchor="end" font-weight="normal" fill="#1a1a1a" stroke="#1a1a1a" font-style="normal" >2.0×10<tspan font-size="5.5" dy="-3.2">-3</tspan></text>
<text x="507.00" y="113.75" font-size="8.3" text-anchor="end" font-weight="normal" fill="#1a1a1a" stroke="#1a1a1a" font-style="normal" >1.0×10<tspan font-size="5.5" dy="-3.2">-3</tspan></text>
<text x="506.50" y="140.30" font-size="8.3" text-anchor="end" font-weight="normal" fill="#1a1a1a" stroke="#1a1a1a" font-style="normal" >0.0</text>
<text x="602.10" y="175.70" font-size="9.6" text-anchor="middle" font-weight="normal" fill="#1a1a1a" stroke="#1a1a1a" font-style="normal"  textLength="80" lengthAdjust="spacingAndGlyphs">Temperature, <tspan font-style="italic">T</tspan> (°C)</text>
<text x="0" y="0" font-size="11.9" text-anchor="middle" fill="#1a1a1a" stroke="#1a1a1a" transform="translate(467.00,76.60) rotate(-90)">Conductivity, <tspan font-style="italic">σ</tspan> (μS/m)</text>
<text x="495.50" y="167.20" font-size="11.2" text-anchor="start" font-weight="bold" fill="#111" stroke="#111" font-style="normal" >c</text>
<rect x="61.00" y="210.70" width="127.40" height="142.30" fill="#f2e4c1" stroke="none" stroke-width="0"/>
<polyline points="33.30,324.00 35.50,325.30 38.20,326.80 41.00,328.20 42.40,323.10 44.30,323.50 46.10,325.80 47.40,329.50 49.20,332.60 52.00,333.20 54.20,335.00 55.60,331.90 58.40,330.40 60.80,328.60 62.00,323.10 63.00,306.60 63.90,303.00 65.30,297.10 67.50,293.80 70.30,292.00 73.90,290.10 76.70,287.80 79.40,287.40 83.10,288.30 86.80,289.20 88.60,290.10 90.40,286.10 93.20,289.20 95.90,289.80 99.60,288.70 103.20,288.30 105.10,284.60 108.50,281.80 112.10,278.30 114.90,275.90 116.80,270.70 120.30,271.20 123.80,270.70 127.40,267.70 130.90,264.60 134.40,260.60 138.00,258.30 141.50,259.40 145.00,254.70 147.40,253.10 150.90,254.70 153.30,251.20 156.80,249.50 160.30,245.30 163.80,237.10 166.20,231.20 168.10,226.00 170.90,224.10 174.40,225.30 179.20,227.70 181.50,232.40 183.90,238.20 187.40,244.10 190.20,248.80 191.70,253.90 192.40,274.00 193.60,282.20 194.30,285.80 196.00,291.70 197.80,296.40 199.50,299.90 200.70,298.70 204.20,295.20 207.70,292.80 209.60,291.70" fill="none" stroke="#000" stroke-width="0.8" stroke-linejoin="round" stroke-linecap="round" />
<rect x="31.80" y="322.50" width="3.0" height="3.0" fill="#000"/>
<rect x="34.00" y="323.80" width="3.0" height="3.0" fill="#000"/>
<rect x="36.70" y="325.30" width="3.0" height="3.0" fill="#000"/>
<rect x="39.50" y="326.70" width="3.0" height="3.0" fill="#000"/>
<rect x="40.90" y="321.60" width="3.0" height="3.0" fill="#000"/>
<rect x="42.80" y="322.00" width="3.0" height="3.0" fill="#000"/>
<rect x="44.60" y="324.30" width="3.0" height="3.0" fill="#000"/>
<rect x="45.90" y="328.00" width="3.0" height="3.0" fill="#000"/>
<rect x="47.70" y="331.10" width="3.0" height="3.0" fill="#000"/>
<rect x="50.50" y="331.70" width="3.0" height="3.0" fill="#000"/>
<rect x="52.70" y="333.50" width="3.0" height="3.0" fill="#000"/>
<rect x="54.10" y="330.40" width="3.0" height="3.0" fill="#000"/>
<rect x="56.90" y="328.90" width="3.0" height="3.0" fill="#000"/>
<rect x="59.30" y="327.10" width="3.0" height="3.0" fill="#000"/>
<rect x="60.50" y="321.60" width="3.0" height="3.0" fill="#000"/>
<rect x="61.50" y="305.10" width="3.0" height="3.0" fill="#000"/>
<rect x="62.40" y="301.50" width="3.0" height="3.0" fill="#000"/>
<rect x="63.80" y="295.60" width="3.0" height="3.0" fill="#000"/>
<rect x="66.00" y="292.30" width="3.0" height="3.0" fill="#000"/>
<rect x="68.80" y="290.50" width="3.0" height="3.0" fill="#000"/>
<rect x="72.40" y="288.60" width="3.0" height="3.0" fill="#000"/>
<rect x="75.20" y="286.30" width="3.0" height="3.0" fill="#000"/>
<rect x="77.90" y="285.90" width="3.0" height="3.0" fill="#000"/>
<rect x="81.60" y="286.80" width="3.0" height="3.0" fill="#000"/>
<rect x="85.30" y="287.70" width="3.0" height="3.0" fill="#000"/>
<rect x="87.10" y="288.60" width="3.0" height="3.0" fill="#000"/>
<rect x="88.90" y="284.60" width="3.0" height="3.0" fill="#000"/>
<rect x="91.70" y="287.70" width="3.0" height="3.0" fill="#000"/>
<rect x="94.40" y="288.30" width="3.0" height="3.0" fill="#000"/>
<rect x="98.10" y="287.20" width="3.0" height="3.0" fill="#000"/>
<rect x="101.70" y="286.80" width="3.0" height="3.0" fill="#000"/>
<rect x="103.60" y="283.10" width="3.0" height="3.0" fill="#000"/>
<rect x="107.00" y="280.30" width="3.0" height="3.0" fill="#000"/>
<rect x="110.60" y="276.80" width="3.0" height="3.0" fill="#000"/>
<rect x="113.40" y="274.40" width="3.0" height="3.0" fill="#000"/>
<rect x="115.30" y="269.20" width="3.0" height="3.0" fill="#000"/>
<rect x="118.80" y="269.70" width="3.0" height="3.0" fill="#000"/>
<rect x="122.30" y="269.20" width="3.0" height="3.0" fill="#000"/>
<rect x="125.90" y="266.20" width="3.0" height="3.0" fill="#000"/>
<rect x="129.40" y="263.10" width="3.0" height="3.0" fill="#000"/>
<rect x="132.90" y="259.10" width="3.0" height="3.0" fill="#000"/>
<rect x="136.50" y="256.80" width="3.0" height="3.0" fill="#000"/>
<rect x="140.00" y="257.90" width="3.0" height="3.0" fill="#000"/>
<rect x="143.50" y="253.20" width="3.0" height="3.0" fill="#000"/>
<rect x="145.90" y="251.60" width="3.0" height="3.0" fill="#000"/>
<rect x="149.40" y="253.20" width="3.0" height="3.0" fill="#000"/>
<rect x="151.80" y="249.70" width="3.0" height="3.0" fill="#000"/>
<rect x="155.30" y="248.00" width="3.0" height="3.0" fill="#000"/>
<rect x="158.80" y="243.80" width="3.0" height="3.0" fill="#000"/>
<rect x="162.30" y="235.60" width="3.0" height="3.0" fill="#000"/>
<rect x="164.70" y="229.70" width="3.0" height="3.0" fill="#000"/>
<rect x="166.60" y="224.50" width="3.0" height="3.0" fill="#000"/>
<rect x="169.40" y="222.60" width="3.0" height="3.0" fill="#000"/>
<rect x="172.90" y="223.80" width="3.0" height="3.0" fill="#000"/>
<rect x="177.70" y="226.20" width="3.0" height="3.0" fill="#000"/>
<rect x="180.00" y="230.90" width="3.0" height="3.0" fill="#000"/>
<rect x="182.40" y="236.70" width="3.0" height="3.0" fill="#000"/>
<rect x="185.90" y="242.60" width="3.0" height="3.0" fill="#000"/>
<rect x="188.70" y="247.30" width="3.0" height="3.0" fill="#000"/>
<rect x="190.20" y="252.40" width="3.0" height="3.0" fill="#000"/>
<rect x="190.90" y="272.50" width="3.0" height="3.0" fill="#000"/>
<rect x="192.10" y="280.70" width="3.0" height="3.0" fill="#000"/>
<rect x="192.80" y="284.30" width="3.0" height="3.0" fill="#000"/>
<rect x="194.50" y="290.20" width="3.0" height="3.0" fill="#000"/>
<rect x="196.30" y="294.90" width="3.0" height="3.0" fill="#000"/>
<rect x="198.00" y="298.40" width="3.0" height="3.0" fill="#000"/>
<rect x="199.20" y="297.20" width="3.0" height="3.0" fill="#000"/>
<rect x="202.70" y="293.70" width="3.0" height="3.0" fill="#000"/>
<rect x="206.20" y="291.30" width="3.0" height="3.0" fill="#000"/>
<rect x="208.10" y="290.20" width="3.0" height="3.0" fill="#000"/>
<polyline points="33.30,324.00 35.50,325.30 38.20,326.80 41.00,328.20 42.40,323.10 44.30,323.50 46.10,325.80 47.40,329.50 49.20,332.60 52.00,333.20 54.20,335.00 55.60,331.90 58.40,330.40 60.80,328.60 62.00,323.10" fill="none" stroke="#000" stroke-width="3.3" stroke-linejoin="round" stroke-linecap="round" />
<polyline points="63.00,306.60 63.90,303.00 65.30,297.10 67.50,293.80 70.30,292.00 73.90,290.10 76.70,287.80 79.40,287.40 83.10,288.30 86.80,289.20 88.60,290.10 90.40,286.10 93.20,289.20 95.90,289.80 99.60,288.70 103.20,288.30 105.10,284.60 108.50,281.80 112.10,278.30 114.90,275.90 116.80,270.70 120.30,271.20 123.80,270.70 127.40,267.70 130.90,264.60 134.40,260.60 138.00,258.30 141.50,259.40 145.00,254.70 147.40,253.10 150.90,254.70 153.30,251.20 156.80,249.50 160.30,245.30 163.80,237.10 166.20,231.20 168.10,226.00 170.90,224.10 174.40,225.30 179.20,227.70 181.50,232.40 183.90,238.20 187.40,244.10 190.20,248.80 191.70,253.90" fill="none" stroke="#000" stroke-width="3.3" stroke-linejoin="round" stroke-linecap="round" />
<polyline points="192.40,274.00 193.60,282.20 194.30,285.80 196.00,291.70 197.80,296.40 199.50,299.90 200.70,298.70 204.20,295.20 207.70,292.80 209.60,291.70" fill="none" stroke="#000" stroke-width="3.3" stroke-linejoin="round" stroke-linecap="round" />
<rect x="32.50" y="210.70" width="177.04" height="142.30" fill="none" stroke="#4d4d4d" stroke-width="1.1"/>
<line x1="32.50" y1="353.00" x2="32.50" y2="356.00" stroke="#4d4d4d" stroke-width="1"/>
<line x1="32.50" y1="210.70" x2="32.50" y2="213.70" stroke="#4d4d4d" stroke-width="1"/>
<line x1="54.63" y1="353.00" x2="54.63" y2="356.00" stroke="#4d4d4d" stroke-width="1"/>
<line x1="54.63" y1="210.70" x2="54.63" y2="213.70" stroke="#4d4d4d" stroke-width="1"/>
<line x1="76.76" y1="353.00" x2="76.76" y2="356.00" stroke="#4d4d4d" stroke-width="1"/>
<line x1="76.76" y1="210.70" x2="76.76" y2="213.70" stroke="#4d4d4d" stroke-width="1"/>
<line x1="98.89" y1="353.00" x2="98.89" y2="356.00" stroke="#4d4d4d" stroke-width="1"/>
<line x1="98.89" y1="210.70" x2="98.89" y2="213.70" stroke="#4d4d4d" stroke-width="1"/>
<line x1="121.02" y1="353.00" x2="121.02" y2="356.00" stroke="#4d4d4d" stroke-width="1"/>
<line x1="121.02" y1="210.70" x2="121.02" y2="213.70" stroke="#4d4d4d" stroke-width="1"/>
<line x1="143.15" y1="353.00" x2="143.15" y2="356.00" stroke="#4d4d4d" stroke-width="1"/>
<line x1="143.15" y1="210.70" x2="143.15" y2="213.70" stroke="#4d4d4d" stroke-width="1"/>
<line x1="165.28" y1="353.00" x2="165.28" y2="356.00" stroke="#4d4d4d" stroke-width="1"/>
<line x1="165.28" y1="210.70" x2="165.28" y2="213.70" stroke="#4d4d4d" stroke-width="1"/>
<line x1="187.41" y1="353.00" x2="187.41" y2="356.00" stroke="#4d4d4d" stroke-width="1"/>
<line x1="187.41" y1="210.70" x2="187.41" y2="213.70" stroke="#4d4d4d" stroke-width="1"/>
<line x1="209.54" y1="353.00" x2="209.54" y2="356.00" stroke="#4d4d4d" stroke-width="1"/>
<line x1="209.54" y1="210.70" x2="209.54" y2="213.70" stroke="#4d4d4d" stroke-width="1"/>
<line x1="43.56" y1="353.00" x2="43.56" y2="355.00" stroke="#4d4d4d" stroke-width="1"/>
<line x1="43.56" y1="210.70" x2="43.56" y2="212.70" stroke="#4d4d4d" stroke-width="1"/>
<line x1="65.69" y1="353.00" x2="65.69" y2="355.00" stroke="#4d4d4d" stroke-width="1"/>
<line x1="65.69" y1="210.70" x2="65.69" y2="212.70" stroke="#4d4d4d" stroke-width="1"/>
<line x1="87.83" y1="353.00" x2="87.83" y2="355.00" stroke="#4d4d4d" stroke-width="1"/>
<line x1="87.83" y1="210.70" x2="87.83" y2="212.70" stroke="#4d4d4d" stroke-width="1"/>
<line x1="109.95" y1="353.00" x2="109.95" y2="355.00" stroke="#4d4d4d" stroke-width="1"/>
<line x1="109.95" y1="210.70" x2="109.95" y2="212.70" stroke="#4d4d4d" stroke-width="1"/>
<line x1="132.09" y1="353.00" x2="132.09" y2="355.00" stroke="#4d4d4d" stroke-width="1"/>
<line x1="132.09" y1="210.70" x2="132.09" y2="212.70" stroke="#4d4d4d" stroke-width="1"/>
<line x1="154.22" y1="353.00" x2="154.22" y2="355.00" stroke="#4d4d4d" stroke-width="1"/>
<line x1="154.22" y1="210.70" x2="154.22" y2="212.70" stroke="#4d4d4d" stroke-width="1"/>
<line x1="176.34" y1="353.00" x2="176.34" y2="355.00" stroke="#4d4d4d" stroke-width="1"/>
<line x1="176.34" y1="210.70" x2="176.34" y2="212.70" stroke="#4d4d4d" stroke-width="1"/>
<line x1="198.47" y1="353.00" x2="198.47" y2="355.00" stroke="#4d4d4d" stroke-width="1"/>
<line x1="198.47" y1="210.70" x2="198.47" y2="212.70" stroke="#4d4d4d" stroke-width="1"/>
<text x="32.50" y="364.70" font-size="9.3" text-anchor="middle" font-weight="normal" fill="#1a1a1a" stroke="#1a1a1a" font-style="normal"  textLength="4.78" lengthAdjust="spacingAndGlyphs">0</text>
<text x="54.63" y="364.70" font-size="9.3" text-anchor="middle" font-weight="normal" fill="#1a1a1a" stroke="#1a1a1a" font-style="normal"  textLength="9.57" lengthAdjust="spacingAndGlyphs">10</text>
<text x="76.76" y="364.70" font-size="9.3" text-anchor="middle" font-weight="normal" fill="#1a1a1a" stroke="#1a1a1a" font-style="normal"  textLength="9.57" lengthAdjust="spacingAndGlyphs">20</text>
<text x="98.89" y="364.70" font-size="9.3" text-anchor="middle" font-weight="normal" fill="#1a1a1a" stroke="#1a1a1a" font-style="normal"  textLength="9.57" lengthAdjust="spacingAndGlyphs">30</text>
<text x="121.02" y="364.70" font-size="9.3" text-anchor="middle" font-weight="normal" fill="#1a1a1a" stroke="#1a1a1a" font-style="normal"  textLength="9.57" lengthAdjust="spacingAndGlyphs">40</text>
<text x="143.15" y="364.70" font-size="9.3" text-anchor="middle" font-weight="normal" fill="#1a1a1a" stroke="#1a1a1a" font-style="normal"  textLength="9.57" lengthAdjust="spacingAndGlyphs">50</text>
<text x="165.28" y="364.70" font-size="9.3" text-anchor="middle" font-weight="normal" fill="#1a1a1a" stroke="#1a1a1a" font-style="normal"  textLength="9.57" lengthAdjust="spacingAndGlyphs">60</text>
<text x="187.41" y="364.70" font-size="9.3" text-anchor="middle" font-weight="normal" fill="#1a1a1a" stroke="#1a1a1a" font-style="normal"  textLength="9.57" lengthAdjust="spacingAndGlyphs">70</text>
<text x="209.54" y="364.70" font-size="9.3" text-anchor="middle" font-weight="normal" fill="#1a1a1a" stroke="#1a1a1a" font-style="normal"  textLength="9.57" lengthAdjust="spacingAndGlyphs">80</text>
<line x1="29.50" y1="219.80" x2="32.50" y2="219.80" stroke="#4d4d4d" stroke-width="1"/>
<line x1="206.54" y1="219.80" x2="209.54" y2="219.80" stroke="#4d4d4d" stroke-width="1"/>
<line x1="29.50" y1="241.20" x2="32.50" y2="241.20" stroke="#4d4d4d" stroke-width="1"/>
<line x1="206.54" y1="241.20" x2="209.54" y2="241.20" stroke="#4d4d4d" stroke-width="1"/>
<line x1="29.50" y1="262.60" x2="32.50" y2="262.60" stroke="#4d4d4d" stroke-width="1"/>
<line x1="206.54" y1="262.60" x2="209.54" y2="262.60" stroke="#4d4d4d" stroke-width="1"/>
<line x1="29.50" y1="284.00" x2="32.50" y2="284.00" stroke="#4d4d4d" stroke-width="1"/>
<line x1="206.54" y1="284.00" x2="209.54" y2="284.00" stroke="#4d4d4d" stroke-width="1"/>
<line x1="29.50" y1="305.40" x2="32.50" y2="305.40" stroke="#4d4d4d" stroke-width="1"/>
<line x1="206.54" y1="305.40" x2="209.54" y2="305.40" stroke="#4d4d4d" stroke-width="1"/>
<line x1="29.50" y1="326.80" x2="32.50" y2="326.80" stroke="#4d4d4d" stroke-width="1"/>
<line x1="206.54" y1="326.80" x2="209.54" y2="326.80" stroke="#4d4d4d" stroke-width="1"/>
<line x1="29.50" y1="348.20" x2="32.50" y2="348.20" stroke="#4d4d4d" stroke-width="1"/>
<line x1="206.54" y1="348.20" x2="209.54" y2="348.20" stroke="#4d4d4d" stroke-width="1"/>
<text x="27.50" y="223.10" font-size="9.3" text-anchor="end" font-weight="normal" fill="#1a1a1a" stroke="#1a1a1a" font-style="normal"  textLength="16.74" lengthAdjust="spacingAndGlyphs">28.8</text>
<text x="27.50" y="244.50" font-size="9.3" text-anchor="end" font-weight="normal" fill="#1a1a1a" stroke="#1a1a1a" font-style="normal"  textLength="16.74" lengthAdjust="spacingAndGlyphs">28.4</text>
<text x="27.50" y="265.90" font-size="9.3" text-anchor="end" font-weight="normal" fill="#1a1a1a" stroke="#1a1a1a" font-style="normal"  textLength="16.74" lengthAdjust="spacingAndGlyphs">27.9</text>
<text x="27.50" y="287.30" font-size="9.3" text-anchor="end" font-weight="normal" fill="#1a1a1a" stroke="#1a1a1a" font-style="normal"  textLength="16.74" lengthAdjust="spacingAndGlyphs">27.5</text>
<text x="27.50" y="308.70" font-size="9.3" text-anchor="end" font-weight="normal" fill="#1a1a1a" stroke="#1a1a1a" font-style="normal"  textLength="16.74" lengthAdjust="spacingAndGlyphs">27.0</text>
<text x="27.50" y="330.10" font-size="9.3" text-anchor="end" font-weight="normal" fill="#1a1a1a" stroke="#1a1a1a" font-style="normal"  textLength="16.74" lengthAdjust="spacingAndGlyphs">26.6</text>
<text x="27.50" y="351.50" font-size="9.3" text-anchor="end" font-weight="normal" fill="#1a1a1a" stroke="#1a1a1a" font-style="normal"  textLength="16.74" lengthAdjust="spacingAndGlyphs">26.1</text>
<text x="121.50" y="328.00" font-size="8.5" text-anchor="middle" font-weight="bold" fill="#e08a2e" stroke="#e08a2e" font-style="normal" stroke-width="0" textLength="31" lengthAdjust="spacingAndGlyphs">light ON</text>
<text x="120.60" y="379.00" font-size="9" text-anchor="middle" font-weight="normal" fill="#1a1a1a" stroke="#1a1a1a" font-style="normal" ><tspan font-style="italic">t</tspan> (s)</text>
<text x="0" y="0" font-size="9.8" text-anchor="middle" fill="#1a1a1a" stroke="#1a1a1a" transform="translate(5.50,281.70) rotate(-90)"><tspan font-style="italic">I</tspan> (nA)</text>
<text x="8.00" y="379.50" font-size="11.2" text-anchor="start" font-weight="bold" fill="#111" stroke="#111" font-style="normal" >d</text>
<rect x="285.60" y="210.60" width="109.70" height="142.60" fill="#f2e4c1" stroke="none" stroke-width="0"/>
<polyline points="285.30,334.90 286.40,318.40 287.40,329.40 285.60,342.30 288.20,284.80" fill="none" stroke="#222" stroke-width="0.5" stroke-linejoin="round" stroke-linecap="round" />
<polyline points="396.50,220.20 397.10,259.10 397.90,270.40" fill="none" stroke="#222" stroke-width="0.6" stroke-linejoin="round" stroke-linecap="round" />
<line x1="307.40" y1="241.40" x2="306.60" y2="258.20" stroke="#555" stroke-width="0.6"/>
<line x1="317.90" y1="235.40" x2="317.10" y2="251.40" stroke="#555" stroke-width="0.6"/>
<line x1="324.20" y1="230.70" x2="323.70" y2="248.30" stroke="#555" stroke-width="0.6"/>
<line x1="334.40" y1="231.20" x2="333.60" y2="246.50" stroke="#555" stroke-width="0.6"/>
<line x1="347.00" y1="228.90" x2="345.90" y2="240.60" stroke="#555" stroke-width="0.6"/>
<line x1="361.50" y1="223.40" x2="360.80" y2="231.20" stroke="#555" stroke-width="0.6"/>
<line x1="368.20" y1="221.00" x2="367.40" y2="230.10" stroke="#555" stroke-width="0.6"/>
<line x1="411.20" y1="284.90" x2="410.10" y2="299.00" stroke="#555" stroke-width="0.6"/>
<line x1="428.20" y1="298.10" x2="427.70" y2="313.20" stroke="#555" stroke-width="0.6"/>
<line x1="437.10" y1="300.20" x2="436.10" y2="314.80" stroke="#555" stroke-width="0.6"/>
<line x1="447.60" y1="300.70" x2="447.60" y2="314.30" stroke="#555" stroke-width="0.6"/>
<polyline points="272.50,333.60 275.30,334.60 278.00,333.20 280.10,332.50 281.60,334.00 283.70,335.10 285.30,334.90" fill="none" stroke="#000" stroke-width="3.0" stroke-linejoin="round" stroke-linecap="round" />
<rect x="270.80" y="331.90" width="3.4" height="3.4" fill="#000"/>
<rect x="274.07" y="332.66" width="3.4" height="3.4" fill="#000"/>
<rect x="277.23" y="331.19" width="3.4" height="3.4" fill="#000"/>
<rect x="280.03" y="332.37" width="3.4" height="3.4" fill="#000"/>
<rect x="283.27" y="333.24" width="3.4" height="3.4" fill="#000"/>
<rect x="283.60" y="333.20" width="3.4" height="3.4" fill="#000"/>
<polyline points="288.20,284.80 289.00,276.20 289.60,273.90 291.60,268.30 292.00,265.30 295.10,259.80 299.00,256.10 303.80,252.70 308.50,247.20 314.00,243.30 320.30,240.90 325.00,238.30 329.70,239.10 333.60,240.20 337.60,237.50 342.30,235.10 347.00,232.80 352.50,230.40 358.00,228.50 362.70,225.70 367.40,224.90 372.20,225.20 376.90,225.70 381.60,224.90 387.90,222.90 392.60,221.30 396.50,220.20" fill="none" stroke="#000" stroke-width="3.0" stroke-linejoin="round" stroke-linecap="round" />
<rect x="286.50" y="283.10" width="3.4" height="3.4" fill="#000"/>
<rect x="286.82" y="279.62" width="3.4" height="3.4" fill="#000"/>
<rect x="287.15" y="276.13" width="3.4" height="3.4" fill="#000"/>
<rect x="287.77" y="272.70" width="3.4" height="3.4" fill="#000"/>
<rect x="288.90" y="269.39" width="3.4" height="3.4" fill="#000"/>
<rect x="289.97" y="266.07" width="3.4" height="3.4" fill="#000"/>
<rect x="290.80" y="262.72" width="3.4" height="3.4" fill="#000"/>
<rect x="292.52" y="259.67" width="3.4" height="3.4" fill="#000"/>
<rect x="294.63" y="256.93" width="3.4" height="3.4" fill="#000"/>
<rect x="297.17" y="254.52" width="3.4" height="3.4" fill="#000"/>
<rect x="300.01" y="252.48" width="3.4" height="3.4" fill="#000"/>
<rect x="302.71" y="250.28" width="3.4" height="3.4" fill="#000"/>
<rect x="304.99" y="247.62" width="3.4" height="3.4" fill="#000"/>
<rect x="307.38" y="245.09" width="3.4" height="3.4" fill="#000"/>
<rect x="310.23" y="243.07" width="3.4" height="3.4" fill="#000"/>
<rect x="313.20" y="241.26" width="3.4" height="3.4" fill="#000"/>
<rect x="316.47" y="240.01" width="3.4" height="3.4" fill="#000"/>
<rect x="319.67" y="238.61" width="3.4" height="3.4" fill="#000"/>
<rect x="322.73" y="236.91" width="3.4" height="3.4" fill="#000"/>
<rect x="326.11" y="237.08" width="3.4" height="3.4" fill="#000"/>
<rect x="329.52" y="237.83" width="3.4" height="3.4" fill="#000"/>
<rect x="332.76" y="237.92" width="3.4" height="3.4" fill="#000"/>
<rect x="335.66" y="235.96" width="3.4" height="3.4" fill="#000"/>
<rect x="338.76" y="234.34" width="3.4" height="3.4" fill="#000"/>
<rect x="341.88" y="232.77" width="3.4" height="3.4" fill="#000"/>
<rect x="345.03" y="231.23" width="3.4" height="3.4" fill="#000"/>
<rect x="348.23" y="229.82" width="3.4" height="3.4" fill="#000"/>
<rect x="351.46" y="228.47" width="3.4" height="3.4" fill="#000"/>
<rect x="354.77" y="227.33" width="3.4" height="3.4" fill="#000"/>
<rect x="357.91" y="225.84" width="3.4" height="3.4" fill="#000"/>
<rect x="360.92" y="224.05" width="3.4" height="3.4" fill="#000"/>
<rect x="364.36" y="223.43" width="3.4" height="3.4" fill="#000"/>
<rect x="367.83" y="223.33" width="3.4" height="3.4" fill="#000"/>
<rect x="371.32" y="223.59" width="3.4" height="3.4" fill="#000"/>
<rect x="374.80" y="223.96" width="3.4" height="3.4" fill="#000"/>
<rect x="378.26" y="223.48" width="3.4" height="3.4" fill="#000"/>
<rect x="381.65" y="222.65" width="3.4" height="3.4" fill="#000"/>
<rect x="384.98" y="221.59" width="3.4" height="3.4" fill="#000"/>
<rect x="388.31" y="220.48" width="3.4" height="3.4" fill="#000"/>
<rect x="391.63" y="219.39" width="3.4" height="3.4" fill="#000"/>
<rect x="394.80" y="218.50" width="3.4" height="3.4" fill="#000"/>
<polyline points="397.90,270.40 399.40,275.90 401.80,282.20 405.70,287.70 410.50,292.80 415.10,296.30 417.80,298.60 421.40,301.00 426.20,305.40 431.40,307.00 436.60,307.20 441.80,307.80 447.60,308.20" fill="none" stroke="#000" stroke-width="3.0" stroke-linejoin="round" stroke-linecap="round" />
<rect x="396.20" y="268.70" width="3.4" height="3.4" fill="#000"/>
<rect x="397.12" y="272.08" width="3.4" height="3.4" fill="#000"/>
<rect x="398.16" y="275.41" width="3.4" height="3.4" fill="#000"/>
<rect x="399.41" y="278.68" width="3.4" height="3.4" fill="#000"/>
<rect x="401.00" y="281.77" width="3.4" height="3.4" fill="#000"/>
<rect x="403.03" y="284.63" width="3.4" height="3.4" fill="#000"/>
<rect x="405.24" y="287.32" width="3.4" height="3.4" fill="#000"/>
<rect x="407.64" y="289.87" width="3.4" height="3.4" fill="#000"/>
<rect x="410.24" y="292.20" width="3.4" height="3.4" fill="#000"/>
<rect x="413.03" y="294.32" width="3.4" height="3.4" fill="#000"/>
<rect x="415.71" y="296.57" width="3.4" height="3.4" fill="#000"/>
<rect x="418.58" y="298.56" width="3.4" height="3.4" fill="#000"/>
<rect x="421.29" y="300.76" width="3.4" height="3.4" fill="#000"/>
<rect x="423.87" y="303.12" width="3.4" height="3.4" fill="#000"/>
<rect x="427.03" y="304.48" width="3.4" height="3.4" fill="#000"/>
<rect x="430.41" y="305.33" width="3.4" height="3.4" fill="#000"/>
<rect x="433.90" y="305.46" width="3.4" height="3.4" fill="#000"/>
<rect x="437.39" y="305.79" width="3.4" height="3.4" fill="#000"/>
<rect x="440.87" y="306.15" width="3.4" height="3.4" fill="#000"/>
<rect x="444.36" y="306.39" width="3.4" height="3.4" fill="#000"/>
<rect x="445.90" y="306.50" width="3.4" height="3.4" fill="#000"/>
<rect x="271.70" y="327.60" width="3.0" height="3.0" fill="#000"/>
<rect x="271.20" y="337.90" width="3.0" height="3.0" fill="#000"/>
<rect x="284.90" y="316.90" width="3.0" height="3.0" fill="#000"/>
<rect x="285.90" y="327.90" width="3.0" height="3.0" fill="#000"/>
<rect x="284.10" y="340.80" width="3.0" height="3.0" fill="#000"/>
<rect x="305.90" y="239.90" width="3.0" height="3.0" fill="#000"/>
<rect x="305.10" y="256.70" width="3.0" height="3.0" fill="#000"/>
<rect x="316.40" y="233.90" width="3.0" height="3.0" fill="#000"/>
<rect x="315.60" y="249.90" width="3.0" height="3.0" fill="#000"/>
<rect x="322.70" y="229.20" width="3.0" height="3.0" fill="#000"/>
<rect x="322.20" y="246.80" width="3.0" height="3.0" fill="#000"/>
<rect x="332.90" y="229.70" width="3.0" height="3.0" fill="#000"/>
<rect x="332.10" y="245.00" width="3.0" height="3.0" fill="#000"/>
<rect x="345.50" y="227.40" width="3.0" height="3.0" fill="#000"/>
<rect x="344.40" y="239.10" width="3.0" height="3.0" fill="#000"/>
<rect x="351.80" y="228.10" width="3.0" height="3.0" fill="#000"/>
<rect x="351.00" y="233.30" width="3.0" height="3.0" fill="#000"/>
<rect x="360.00" y="221.90" width="3.0" height="3.0" fill="#000"/>
<rect x="359.30" y="229.70" width="3.0" height="3.0" fill="#000"/>
<rect x="366.70" y="219.50" width="3.0" height="3.0" fill="#000"/>
<rect x="365.90" y="228.60" width="3.0" height="3.0" fill="#000"/>
<rect x="374.10" y="225.00" width="3.0" height="3.0" fill="#000"/>
<rect x="373.80" y="227.00" width="3.0" height="3.0" fill="#000"/>
<rect x="395.60" y="257.60" width="3.0" height="3.0" fill="#000"/>
<rect x="409.70" y="283.40" width="3.0" height="3.0" fill="#000"/>
<rect x="408.60" y="297.50" width="3.0" height="3.0" fill="#000"/>
<rect x="426.70" y="296.60" width="3.0" height="3.0" fill="#000"/>
<rect x="426.20" y="311.70" width="3.0" height="3.0" fill="#000"/>
<rect x="435.60" y="298.70" width="3.0" height="3.0" fill="#000"/>
<rect x="434.60" y="313.30" width="3.0" height="3.0" fill="#000"/>
<rect x="446.10" y="299.20" width="3.0" height="3.0" fill="#000"/>
<rect x="446.10" y="312.80" width="3.0" height="3.0" fill="#000"/>
<rect x="271.45" y="210.60" width="176.85" height="142.60" fill="none" stroke="#4d4d4d" stroke-width="1.1"/>
<line x1="280.76" y1="353.20" x2="280.76" y2="356.20" stroke="#4d4d4d" stroke-width="1"/>
<line x1="280.76" y1="210.60" x2="280.76" y2="213.60" stroke="#4d4d4d" stroke-width="1"/>
<line x1="299.37" y1="353.20" x2="299.37" y2="356.20" stroke="#4d4d4d" stroke-width="1"/>
<line x1="299.37" y1="210.60" x2="299.37" y2="213.60" stroke="#4d4d4d" stroke-width="1"/>
<line x1="317.99" y1="353.20" x2="317.99" y2="356.20" stroke="#4d4d4d" stroke-width="1"/>
<line x1="317.99" y1="210.60" x2="317.99" y2="213.60" stroke="#4d4d4d" stroke-width="1"/>
<line x1="336.61" y1="353.20" x2="336.61" y2="356.20" stroke="#4d4d4d" stroke-width="1"/>
<line x1="336.61" y1="210.60" x2="336.61" y2="213.60" stroke="#4d4d4d" stroke-width="1"/>
<line x1="355.22" y1="353.20" x2="355.22" y2="356.20" stroke="#4d4d4d" stroke-width="1"/>
<line x1="355.22" y1="210.60" x2="355.22" y2="213.60" stroke="#4d4d4d" stroke-width="1"/>
<line x1="373.84" y1="353.20" x2="373.84" y2="356.20" stroke="#4d4d4d" stroke-width="1"/>
<line x1="373.84" y1="210.60" x2="373.84" y2="213.60" stroke="#4d4d4d" stroke-width="1"/>
<line x1="392.45" y1="353.20" x2="392.45" y2="356.20" stroke="#4d4d4d" stroke-width="1"/>
<line x1="392.45" y1="210.60" x2="392.45" y2="213.60" stroke="#4d4d4d" stroke-width="1"/>
<line x1="411.07" y1="353.20" x2="411.07" y2="356.20" stroke="#4d4d4d" stroke-width="1"/>
<line x1="411.07" y1="210.60" x2="411.07" y2="213.60" stroke="#4d4d4d" stroke-width="1"/>
<line x1="429.69" y1="353.20" x2="429.69" y2="356.20" stroke="#4d4d4d" stroke-width="1"/>
<line x1="429.69" y1="210.60" x2="429.69" y2="213.60" stroke="#4d4d4d" stroke-width="1"/>
<line x1="448.30" y1="353.20" x2="448.30" y2="356.20" stroke="#4d4d4d" stroke-width="1"/>
<line x1="448.30" y1="210.60" x2="448.30" y2="213.60" stroke="#4d4d4d" stroke-width="1"/>
<line x1="290.07" y1="353.20" x2="290.07" y2="355.20" stroke="#4d4d4d" stroke-width="1"/>
<line x1="290.07" y1="210.60" x2="290.07" y2="212.60" stroke="#4d4d4d" stroke-width="1"/>
<line x1="308.68" y1="353.20" x2="308.68" y2="355.20" stroke="#4d4d4d" stroke-width="1"/>
<line x1="308.68" y1="210.60" x2="308.68" y2="212.60" stroke="#4d4d4d" stroke-width="1"/>
<line x1="327.30" y1="353.20" x2="327.30" y2="355.20" stroke="#4d4d4d" stroke-width="1"/>
<line x1="327.30" y1="210.60" x2="327.30" y2="212.60" stroke="#4d4d4d" stroke-width="1"/>
<line x1="345.91" y1="353.20" x2="345.91" y2="355.20" stroke="#4d4d4d" stroke-width="1"/>
<line x1="345.91" y1="210.60" x2="345.91" y2="212.60" stroke="#4d4d4d" stroke-width="1"/>
<line x1="364.53" y1="353.20" x2="364.53" y2="355.20" stroke="#4d4d4d" stroke-width="1"/>
<line x1="364.53" y1="210.60" x2="364.53" y2="212.60" stroke="#4d4d4d" stroke-width="1"/>
<line x1="383.15" y1="353.20" x2="383.15" y2="355.20" stroke="#4d4d4d" stroke-width="1"/>
<line x1="383.15" y1="210.60" x2="383.15" y2="212.60" stroke="#4d4d4d" stroke-width="1"/>
<line x1="401.76" y1="353.20" x2="401.76" y2="355.20" stroke="#4d4d4d" stroke-width="1"/>
<line x1="401.76" y1="210.60" x2="401.76" y2="212.60" stroke="#4d4d4d" stroke-width="1"/>
<line x1="420.38" y1="353.20" x2="420.38" y2="355.20" stroke="#4d4d4d" stroke-width="1"/>
<line x1="420.38" y1="210.60" x2="420.38" y2="212.60" stroke="#4d4d4d" stroke-width="1"/>
<line x1="438.99" y1="353.20" x2="438.99" y2="355.20" stroke="#4d4d4d" stroke-width="1"/>
<line x1="438.99" y1="210.60" x2="438.99" y2="212.60" stroke="#4d4d4d" stroke-width="1"/>
<text x="280.76" y="364.90" font-size="9.3" text-anchor="middle" font-weight="normal" fill="#1a1a1a" stroke="#1a1a1a" font-style="normal"  textLength="4.78" lengthAdjust="spacingAndGlyphs">5</text>
<text x="299.37" y="364.90" font-size="9.3" text-anchor="middle" font-weight="normal" fill="#1a1a1a" stroke="#1a1a1a" font-style="normal"  textLength="9.57" lengthAdjust="spacingAndGlyphs">15</text>
<text x="317.99" y="364.90" font-size="9.3" text-anchor="middle" font-weight="normal" fill="#1a1a1a" stroke="#1a1a1a" font-style="normal"  textLength="9.57" lengthAdjust="spacingAndGlyphs">25</text>
<text x="336.61" y="364.90" font-size="9.3" text-anchor="middle" font-weight="normal" fill="#1a1a1a" stroke="#1a1a1a" font-style="normal"  textLength="9.57" lengthAdjust="spacingAndGlyphs">35</text>
<text x="355.22" y="364.90" font-size="9.3" text-anchor="middle" font-weight="normal" fill="#1a1a1a" stroke="#1a1a1a" font-style="normal"  textLength="9.57" lengthAdjust="spacingAndGlyphs">45</text>
<text x="373.84" y="364.90" font-size="9.3" text-anchor="middle" font-weight="normal" fill="#1a1a1a" stroke="#1a1a1a" font-style="normal"  textLength="9.57" lengthAdjust="spacingAndGlyphs">55</text>
<text x="392.45" y="364.90" font-size="9.3" text-anchor="middle" font-weight="normal" fill="#1a1a1a" stroke="#1a1a1a" font-style="normal"  textLength="9.57" lengthAdjust="spacingAndGlyphs">65</text>
<text x="411.07" y="364.90" font-size="9.3" text-anchor="middle" font-weight="normal" fill="#1a1a1a" stroke="#1a1a1a" font-style="normal"  textLength="9.57" lengthAdjust="spacingAndGlyphs">75</text>
<text x="429.69" y="364.90" font-size="9.3" text-anchor="middle" font-weight="normal" fill="#1a1a1a" stroke="#1a1a1a" font-style="normal"  textLength="9.57" lengthAdjust="spacingAndGlyphs">85</text>
<text x="448.30" y="364.90" font-size="9.3" text-anchor="middle" font-weight="normal" fill="#1a1a1a" stroke="#1a1a1a" font-style="normal"  textLength="9.57" lengthAdjust="spacingAndGlyphs">95</text>
<line x1="268.45" y1="353.20" x2="271.45" y2="353.20" stroke="#4d4d4d" stroke-width="1"/>
<line x1="445.30" y1="353.20" x2="448.30" y2="353.20" stroke="#4d4d4d" stroke-width="1"/>
<line x1="268.45" y1="338.94" x2="271.45" y2="338.94" stroke="#4d4d4d" stroke-width="1"/>
<line x1="445.30" y1="338.94" x2="448.30" y2="338.94" stroke="#4d4d4d" stroke-width="1"/>
<line x1="268.45" y1="324.68" x2="271.45" y2="324.68" stroke="#4d4d4d" stroke-width="1"/>
<line x1="445.30" y1="324.68" x2="448.30" y2="324.68" stroke="#4d4d4d" stroke-width="1"/>
<line x1="268.45" y1="310.42" x2="271.45" y2="310.42" stroke="#4d4d4d" stroke-width="1"/>
<line x1="445.30" y1="310.42" x2="448.30" y2="310.42" stroke="#4d4d4d" stroke-width="1"/>
<line x1="268.45" y1="296.16" x2="271.45" y2="296.16" stroke="#4d4d4d" stroke-width="1"/>
<line x1="445.30" y1="296.16" x2="448.30" y2="296.16" stroke="#4d4d4d" stroke-width="1"/>
<line x1="268.45" y1="281.90" x2="271.45" y2="281.90" stroke="#4d4d4d" stroke-width="1"/>
<line x1="445.30" y1="281.90" x2="448.30" y2="281.90" stroke="#4d4d4d" stroke-width="1"/>
<line x1="268.45" y1="267.64" x2="271.45" y2="267.64" stroke="#4d4d4d" stroke-width="1"/>
<line x1="445.30" y1="267.64" x2="448.30" y2="267.64" stroke="#4d4d4d" stroke-width="1"/>
<line x1="268.45" y1="253.38" x2="271.45" y2="253.38" stroke="#4d4d4d" stroke-width="1"/>
<line x1="445.30" y1="253.38" x2="448.30" y2="253.38" stroke="#4d4d4d" stroke-width="1"/>
<line x1="268.45" y1="239.12" x2="271.45" y2="239.12" stroke="#4d4d4d" stroke-width="1"/>
<line x1="445.30" y1="239.12" x2="448.30" y2="239.12" stroke="#4d4d4d" stroke-width="1"/>
<line x1="268.45" y1="224.86" x2="271.45" y2="224.86" stroke="#4d4d4d" stroke-width="1"/>
<line x1="445.30" y1="224.86" x2="448.30" y2="224.86" stroke="#4d4d4d" stroke-width="1"/>
<line x1="268.45" y1="210.60" x2="271.45" y2="210.60" stroke="#4d4d4d" stroke-width="1"/>
<line x1="445.30" y1="210.60" x2="448.30" y2="210.60" stroke="#4d4d4d" stroke-width="1"/>
<text x="266.45" y="356.50" font-size="9.3" text-anchor="end" font-weight="normal" fill="#1a1a1a" stroke="#1a1a1a" font-style="normal"  textLength="11.96" lengthAdjust="spacingAndGlyphs">2.1</text>
<text x="266.45" y="342.24" font-size="9.3" text-anchor="end" font-weight="normal" fill="#1a1a1a" stroke="#1a1a1a" font-style="normal"  textLength="11.96" lengthAdjust="spacingAndGlyphs">2.2</text>
<text x="266.45" y="327.98" font-size="9.3" text-anchor="end" font-weight="normal" fill="#1a1a1a" stroke="#1a1a1a" font-style="normal"  textLength="11.96" lengthAdjust="spacingAndGlyphs">2.3</text>
<text x="266.45" y="313.72" font-size="9.3" text-anchor="end" font-weight="normal" fill="#1a1a1a" stroke="#1a1a1a" font-style="normal"  textLength="11.96" lengthAdjust="spacingAndGlyphs">2.4</text>
<text x="266.45" y="299.46" font-size="9.3" text-anchor="end" font-weight="normal" fill="#1a1a1a" stroke="#1a1a1a" font-style="normal"  textLength="11.96" lengthAdjust="spacingAndGlyphs">2.5</text>
<text x="266.45" y="285.20" font-size="9.3" text-anchor="end" font-weight="normal" fill="#1a1a1a" stroke="#1a1a1a" font-style="normal"  textLength="11.96" lengthAdjust="spacingAndGlyphs">2.6</text>
<text x="266.45" y="270.94" font-size="9.3" text-anchor="end" font-weight="normal" fill="#1a1a1a" stroke="#1a1a1a" font-style="normal"  textLength="11.96" lengthAdjust="spacingAndGlyphs">2.7</text>
<text x="266.45" y="256.68" font-size="9.3" text-anchor="end" font-weight="normal" fill="#1a1a1a" stroke="#1a1a1a" font-style="normal"  textLength="11.96" lengthAdjust="spacingAndGlyphs">2.8</text>
<text x="266.45" y="242.42" font-size="9.3" text-anchor="end" font-weight="normal" fill="#1a1a1a" stroke="#1a1a1a" font-style="normal"  textLength="11.96" lengthAdjust="spacingAndGlyphs">2.9</text>
<text x="266.45" y="228.16" font-size="9.3" text-anchor="end" font-weight="normal" fill="#1a1a1a" stroke="#1a1a1a" font-style="normal"  textLength="11.96" lengthAdjust="spacingAndGlyphs">3.0</text>
<text x="266.45" y="213.90" font-size="9.3" text-anchor="end" font-weight="normal" fill="#1a1a1a" stroke="#1a1a1a" font-style="normal"  textLength="11.96" lengthAdjust="spacingAndGlyphs">3.1</text>
<text x="341.00" y="311.80" font-size="8.5" text-anchor="middle" font-weight="bold" fill="#e08a2e" stroke="#e08a2e" font-style="normal" stroke-width="0" textLength="31.3" lengthAdjust="spacingAndGlyphs">light ON</text>
<text x="360.50" y="379.00" font-size="9" text-anchor="middle" font-weight="normal" fill="#1a1a1a" stroke="#1a1a1a" font-style="normal" ><tspan font-style="italic">t</tspan> (s)</text>
<text x="0" y="0" font-size="9.8" text-anchor="middle" fill="#1a1a1a" stroke="#1a1a1a" transform="translate(250.90,281.30) rotate(-90)"><tspan font-style="italic">I</tspan> (nA)</text>
<text x="260.00" y="379.50" font-size="11.2" text-anchor="start" font-weight="bold" fill="#111" stroke="#111" font-style="normal" >e</text>
<rect x="520.90" y="211.20" width="37.80" height="141.30" fill="#f9f0de" stroke="none" stroke-width="0"/>
<rect x="558.70" y="211.20" width="70.40" height="141.30" fill="#f2e4c1" stroke="none" stroke-width="0"/>
<polyline points="521.50,350.40 523.20,339.70 524.70,331.10" fill="none" stroke="#222" stroke-width="0.7" stroke-linejoin="round" stroke-linecap="round" />
<polyline points="559.10,325.80 564.10,227.00" fill="none" stroke="#222" stroke-width="0.7" stroke-linejoin="round" stroke-linecap="round" />
<polyline points="628.50,222.00 630.50,232.90 631.10,291.90 632.70,307.90" fill="none" stroke="#222" stroke-width="0.7" stroke-linejoin="round" stroke-linecap="round" />
<polyline points="510.60,348.90 512.90,348.90 516.10,348.30 518.30,349.40 521.50,350.40" fill="none" stroke="#000" stroke-width="2.5" stroke-linejoin="round" stroke-linecap="round" />
<rect x="509.00" y="347.30" width="3.2" height="3.2" fill="#000"/>
<rect x="513.17" y="346.95" width="3.2" height="3.2" fill="#000"/>
<rect x="517.07" y="347.91" width="3.2" height="3.2" fill="#000"/>
<rect x="519.90" y="348.80" width="3.2" height="3.2" fill="#000"/>
<polyline points="524.70,331.10 526.90,327.50 530.10,326.80 534.40,326.20 540.80,326.20 546.20,325.10 551.50,325.80 559.10,325.80" fill="none" stroke="#000" stroke-width="2.5" stroke-linejoin="round" stroke-linecap="round" />
<rect x="523.10" y="329.50" width="3.2" height="3.2" fill="#000"/>
<rect x="525.29" y="325.92" width="3.2" height="3.2" fill="#000"/>
<rect x="529.40" y="325.07" width="3.2" height="3.2" fill="#000"/>
<rect x="533.56" y="324.60" width="3.2" height="3.2" fill="#000"/>
<rect x="537.76" y="324.60" width="3.2" height="3.2" fill="#000"/>
<rect x="541.91" y="324.05" width="3.2" height="3.2" fill="#000"/>
<rect x="546.04" y="323.69" width="3.2" height="3.2" fill="#000"/>
<rect x="550.21" y="324.20" width="3.2" height="3.2" fill="#000"/>
<rect x="554.41" y="324.20" width="3.2" height="3.2" fill="#000"/>
<rect x="557.50" y="324.20" width="3.2" height="3.2" fill="#000"/>
<polyline points="564.10,227.00 565.40,226.40 567.00,223.70 570.90,223.10 576.20,222.40 584.00,222.70 591.90,223.10 602.30,222.70 610.20,222.70 618.00,222.20 628.50,222.00" fill="none" stroke="#000" stroke-width="2.5" stroke-linejoin="round" stroke-linecap="round" />
<rect x="562.50" y="225.40" width="3.2" height="3.2" fill="#000"/>
<rect x="565.21" y="222.42" width="3.2" height="3.2" fill="#000"/>
<rect x="569.19" y="221.52" width="3.2" height="3.2" fill="#000"/>
<rect x="573.35" y="220.97" width="3.2" height="3.2" fill="#000"/>
<rect x="577.54" y="220.91" width="3.2" height="3.2" fill="#000"/>
<rect x="581.73" y="221.07" width="3.2" height="3.2" fill="#000"/>
<rect x="585.93" y="221.28" width="3.2" height="3.2" fill="#000"/>
<rect x="590.12" y="221.49" width="3.2" height="3.2" fill="#000"/>
<rect x="594.32" y="221.35" width="3.2" height="3.2" fill="#000"/>
<rect x="598.52" y="221.18" width="3.2" height="3.2" fill="#000"/>
<rect x="602.71" y="221.10" width="3.2" height="3.2" fill="#000"/>
<rect x="606.91" y="221.10" width="3.2" height="3.2" fill="#000"/>
<rect x="611.11" y="220.94" width="3.2" height="3.2" fill="#000"/>
<rect x="615.30" y="220.67" width="3.2" height="3.2" fill="#000"/>
<rect x="619.50" y="220.54" width="3.2" height="3.2" fill="#000"/>
<rect x="623.70" y="220.46" width="3.2" height="3.2" fill="#000"/>
<rect x="626.90" y="220.40" width="3.2" height="3.2" fill="#000"/>
<rect x="629.40" y="290.20" width="3.4" height="3.4" fill="#000"/>
<rect x="631.00" y="306.20" width="3.4" height="3.4" fill="#000"/>
<rect x="632.90" y="313.00" width="3.4" height="3.4" fill="#000"/>
<rect x="635.70" y="318.50" width="3.4" height="3.4" fill="#000"/>
<rect x="639.80" y="322.70" width="3.4" height="3.4" fill="#000"/>
<rect x="645.30" y="326.00" width="3.4" height="3.4" fill="#000"/>
<rect x="650.80" y="328.70" width="3.4" height="3.4" fill="#000"/>
<rect x="659.10" y="330.40" width="3.4" height="3.4" fill="#000"/>
<rect x="667.40" y="332.30" width="3.4" height="3.4" fill="#000"/>
<rect x="675.60" y="334.20" width="3.4" height="3.4" fill="#000"/>
<rect x="683.60" y="336.50" width="3.4" height="3.4" fill="#000"/>
<polyline points="631.10,291.90 632.70,307.90 634.60,314.70 637.40,320.20 641.50,324.40 647.00,327.70 652.50,330.40 660.80,332.10 669.10,334.00 677.30,335.90 685.30,338.20" fill="none" stroke="#000" stroke-width="2.0" stroke-linejoin="round" stroke-linecap="round" />
<rect x="642.65" y="324.45" width="3.2" height="3.2" fill="#000"/>
<rect x="648.15" y="327.45" width="3.2" height="3.2" fill="#000"/>
<rect x="655.05" y="329.65" width="3.2" height="3.2" fill="#000"/>
<rect x="663.35" y="331.45" width="3.2" height="3.2" fill="#000"/>
<rect x="671.60" y="333.35" width="3.2" height="3.2" fill="#000"/>
<rect x="679.70" y="335.45" width="3.2" height="3.2" fill="#000"/>
<rect x="521.70" y="338.20" width="3.0" height="3.0" fill="#000"/>
<rect x="629.00" y="231.40" width="3.0" height="3.0" fill="#000"/>
<rect x="629.60" y="290.40" width="3.0" height="3.0" fill="#000"/>
<rect x="510.40" y="211.20" width="176.12" height="141.30" fill="none" stroke="#4d4d4d" stroke-width="1.1"/>
<line x1="510.40" y1="352.50" x2="510.40" y2="355.50" stroke="#4d4d4d" stroke-width="1"/>
<line x1="510.40" y1="211.20" x2="510.40" y2="214.20" stroke="#4d4d4d" stroke-width="1"/>
<line x1="535.56" y1="352.50" x2="535.56" y2="355.50" stroke="#4d4d4d" stroke-width="1"/>
<line x1="535.56" y1="211.20" x2="535.56" y2="214.20" stroke="#4d4d4d" stroke-width="1"/>
<line x1="560.72" y1="352.50" x2="560.72" y2="355.50" stroke="#4d4d4d" stroke-width="1"/>
<line x1="560.72" y1="211.20" x2="560.72" y2="214.20" stroke="#4d4d4d" stroke-width="1"/>
<line x1="585.88" y1="352.50" x2="585.88" y2="355.50" stroke="#4d4d4d" stroke-width="1"/>
<line x1="585.88" y1="211.20" x2="585.88" y2="214.20" stroke="#4d4d4d" stroke-width="1"/>
<line x1="611.04" y1="352.50" x2="611.04" y2="355.50" stroke="#4d4d4d" stroke-width="1"/>
<line x1="611.04" y1="211.20" x2="611.04" y2="214.20" stroke="#4d4d4d" stroke-width="1"/>
<line x1="636.20" y1="352.50" x2="636.20" y2="355.50" stroke="#4d4d4d" stroke-width="1"/>
<line x1="636.20" y1="211.20" x2="636.20" y2="214.20" stroke="#4d4d4d" stroke-width="1"/>
<line x1="661.36" y1="352.50" x2="661.36" y2="355.50" stroke="#4d4d4d" stroke-width="1"/>
<line x1="661.36" y1="211.20" x2="661.36" y2="214.20" stroke="#4d4d4d" stroke-width="1"/>
<line x1="686.52" y1="352.50" x2="686.52" y2="355.50" stroke="#4d4d4d" stroke-width="1"/>
<line x1="686.52" y1="211.20" x2="686.52" y2="214.20" stroke="#4d4d4d" stroke-width="1"/>
<line x1="522.98" y1="352.50" x2="522.98" y2="354.50" stroke="#4d4d4d" stroke-width="1"/>
<line x1="522.98" y1="211.20" x2="522.98" y2="213.20" stroke="#4d4d4d" stroke-width="1"/>
<line x1="548.14" y1="352.50" x2="548.14" y2="354.50" stroke="#4d4d4d" stroke-width="1"/>
<line x1="548.14" y1="211.20" x2="548.14" y2="213.20" stroke="#4d4d4d" stroke-width="1"/>
<line x1="573.30" y1="352.50" x2="573.30" y2="354.50" stroke="#4d4d4d" stroke-width="1"/>
<line x1="573.30" y1="211.20" x2="573.30" y2="213.20" stroke="#4d4d4d" stroke-width="1"/>
<line x1="598.46" y1="352.50" x2="598.46" y2="354.50" stroke="#4d4d4d" stroke-width="1"/>
<line x1="598.46" y1="211.20" x2="598.46" y2="213.20" stroke="#4d4d4d" stroke-width="1"/>
<line x1="623.62" y1="352.50" x2="623.62" y2="354.50" stroke="#4d4d4d" stroke-width="1"/>
<line x1="623.62" y1="211.20" x2="623.62" y2="213.20" stroke="#4d4d4d" stroke-width="1"/>
<line x1="648.78" y1="352.50" x2="648.78" y2="354.50" stroke="#4d4d4d" stroke-width="1"/>
<line x1="648.78" y1="211.20" x2="648.78" y2="213.20" stroke="#4d4d4d" stroke-width="1"/>
<line x1="673.94" y1="352.50" x2="673.94" y2="354.50" stroke="#4d4d4d" stroke-width="1"/>
<line x1="673.94" y1="211.20" x2="673.94" y2="213.20" stroke="#4d4d4d" stroke-width="1"/>
<text x="510.40" y="364.20" font-size="9.3" text-anchor="middle" font-weight="normal" fill="#1a1a1a" stroke="#1a1a1a" font-style="normal"  textLength="4.78" lengthAdjust="spacingAndGlyphs">0</text>
<text x="535.56" y="364.20" font-size="9.3" text-anchor="middle" font-weight="normal" fill="#1a1a1a" stroke="#1a1a1a" font-style="normal"  textLength="9.57" lengthAdjust="spacingAndGlyphs">10</text>
<text x="560.72" y="364.20" font-size="9.3" text-anchor="middle" font-weight="normal" fill="#1a1a1a" stroke="#1a1a1a" font-style="normal"  textLength="9.57" lengthAdjust="spacingAndGlyphs">20</text>
<text x="585.88" y="364.20" font-size="9.3" text-anchor="middle" font-weight="normal" fill="#1a1a1a" stroke="#1a1a1a" font-style="normal"  textLength="9.57" lengthAdjust="spacingAndGlyphs">30</text>
<text x="611.04" y="364.20" font-size="9.3" text-anchor="middle" font-weight="normal" fill="#1a1a1a" stroke="#1a1a1a" font-style="normal"  textLength="9.57" lengthAdjust="spacingAndGlyphs">40</text>
<text x="636.20" y="364.20" font-size="9.3" text-anchor="middle" font-weight="normal" fill="#1a1a1a" stroke="#1a1a1a" font-style="normal"  textLength="9.57" lengthAdjust="spacingAndGlyphs">50</text>
<text x="661.36" y="364.20" font-size="9.3" text-anchor="middle" font-weight="normal" fill="#1a1a1a" stroke="#1a1a1a" font-style="normal"  textLength="9.57" lengthAdjust="spacingAndGlyphs">60</text>
<text x="686.52" y="364.20" font-size="9.3" text-anchor="middle" font-weight="normal" fill="#1a1a1a" stroke="#1a1a1a" font-style="normal"  textLength="9.57" lengthAdjust="spacingAndGlyphs">70</text>
<line x1="507.40" y1="352.30" x2="510.40" y2="352.30" stroke="#4d4d4d" stroke-width="1"/>
<line x1="683.52" y1="352.30" x2="686.52" y2="352.30" stroke="#4d4d4d" stroke-width="1"/>
<line x1="507.40" y1="333.10" x2="510.40" y2="333.10" stroke="#4d4d4d" stroke-width="1"/>
<line x1="683.52" y1="333.10" x2="686.52" y2="333.10" stroke="#4d4d4d" stroke-width="1"/>
<line x1="507.40" y1="313.90" x2="510.40" y2="313.90" stroke="#4d4d4d" stroke-width="1"/>
<line x1="683.52" y1="313.90" x2="686.52" y2="313.90" stroke="#4d4d4d" stroke-width="1"/>
<line x1="507.40" y1="294.70" x2="510.40" y2="294.70" stroke="#4d4d4d" stroke-width="1"/>
<line x1="683.52" y1="294.70" x2="686.52" y2="294.70" stroke="#4d4d4d" stroke-width="1"/>
<line x1="507.40" y1="275.50" x2="510.40" y2="275.50" stroke="#4d4d4d" stroke-width="1"/>
<line x1="683.52" y1="275.50" x2="686.52" y2="275.50" stroke="#4d4d4d" stroke-width="1"/>
<line x1="507.40" y1="256.30" x2="510.40" y2="256.30" stroke="#4d4d4d" stroke-width="1"/>
<line x1="683.52" y1="256.30" x2="686.52" y2="256.30" stroke="#4d4d4d" stroke-width="1"/>
<line x1="507.40" y1="237.10" x2="510.40" y2="237.10" stroke="#4d4d4d" stroke-width="1"/>
<line x1="683.52" y1="237.10" x2="686.52" y2="237.10" stroke="#4d4d4d" stroke-width="1"/>
<line x1="507.40" y1="217.90" x2="510.40" y2="217.90" stroke="#4d4d4d" stroke-width="1"/>
<line x1="683.52" y1="217.90" x2="686.52" y2="217.90" stroke="#4d4d4d" stroke-width="1"/>
<text x="505.40" y="355.60" font-size="9.3" text-anchor="end" font-weight="normal" fill="#1a1a1a" stroke="#1a1a1a" font-style="normal"  textLength="16.74" lengthAdjust="spacingAndGlyphs">0.00</text>
<text x="505.40" y="336.40" font-size="9.3" text-anchor="end" font-weight="normal" fill="#1a1a1a" stroke="#1a1a1a" font-style="normal"  textLength="16.74" lengthAdjust="spacingAndGlyphs">0.08</text>
<text x="505.40" y="317.20" font-size="9.3" text-anchor="end" font-weight="normal" fill="#1a1a1a" stroke="#1a1a1a" font-style="normal"  textLength="16.74" lengthAdjust="spacingAndGlyphs">0.15</text>
<text x="505.40" y="298.00" font-size="9.3" text-anchor="end" font-weight="normal" fill="#1a1a1a" stroke="#1a1a1a" font-style="normal"  textLength="16.74" lengthAdjust="spacingAndGlyphs">0.23</text>
<text x="505.40" y="278.80" font-size="9.3" text-anchor="end" font-weight="normal" fill="#1a1a1a" stroke="#1a1a1a" font-style="normal"  textLength="16.74" lengthAdjust="spacingAndGlyphs">0.30</text>
<text x="505.40" y="259.60" font-size="9.3" text-anchor="end" font-weight="normal" fill="#1a1a1a" stroke="#1a1a1a" font-style="normal"  textLength="16.74" lengthAdjust="spacingAndGlyphs">0.38</text>
<text x="505.40" y="240.40" font-size="9.3" text-anchor="end" font-weight="normal" fill="#1a1a1a" stroke="#1a1a1a" font-style="normal"  textLength="16.74" lengthAdjust="spacingAndGlyphs">0.45</text>
<text x="505.40" y="221.20" font-size="9.3" text-anchor="end" font-weight="normal" fill="#1a1a1a" stroke="#1a1a1a" font-style="normal"  textLength="16.74" lengthAdjust="spacingAndGlyphs">0.53</text>
<text x="538.20" y="272.20" font-size="8.5" text-anchor="middle" font-weight="bold" fill="#e08a2e" stroke="#e08a2e" font-style="normal" stroke-width="0" textLength="30.8" lengthAdjust="spacingAndGlyphs">light ON</text>
<text x="589.80" y="272.20" font-size="8.5" text-anchor="middle" font-weight="bold" fill="#d42020" stroke="#d42020" font-style="normal" stroke-width="0" textLength="32" lengthAdjust="spacingAndGlyphs">light ON</text>
<text x="657.40" y="272.20" font-size="8.5" text-anchor="middle" font-weight="bold" fill="#2020d0" stroke="#2020d0" font-style="normal" stroke-width="0" textLength="34.4" lengthAdjust="spacingAndGlyphs">light OFF</text>
<text x="523.90" y="295.80" font-size="6.9" text-anchor="start" font-weight="normal" fill="#1a1a1a" stroke="#1a1a1a" font-style="normal"  textLength="32.5" lengthAdjust="spacingAndGlyphs">0.5 mW/cm<tspan font-size="4.5" dy="-2.5">2</tspan></text>
<text x="574.90" y="295.80" font-size="6.9" text-anchor="start" font-weight="normal" fill="#1a1a1a" stroke="#1a1a1a" font-style="normal"  textLength="33.5" lengthAdjust="spacingAndGlyphs">4.8 mW/cm<tspan font-size="4.5" dy="-2.5">2</tspan></text>
<text x="599.00" y="379.00" font-size="9" text-anchor="middle" font-weight="normal" fill="#1a1a1a" stroke="#1a1a1a" font-style="normal" ><tspan font-style="italic">t</tspan> (s)</text>
<text x="0" y="0" font-size="9.8" text-anchor="middle" fill="#1a1a1a" stroke="#1a1a1a" transform="translate(484.80,281.50) rotate(-90)"><tspan font-style="italic">I</tspan> (nA)</text>
<text x="479.00" y="379.50" font-size="11.2" text-anchor="start" font-weight="bold" fill="#111" stroke="#111" font-style="normal" >f</text>
</svg></body></html>
